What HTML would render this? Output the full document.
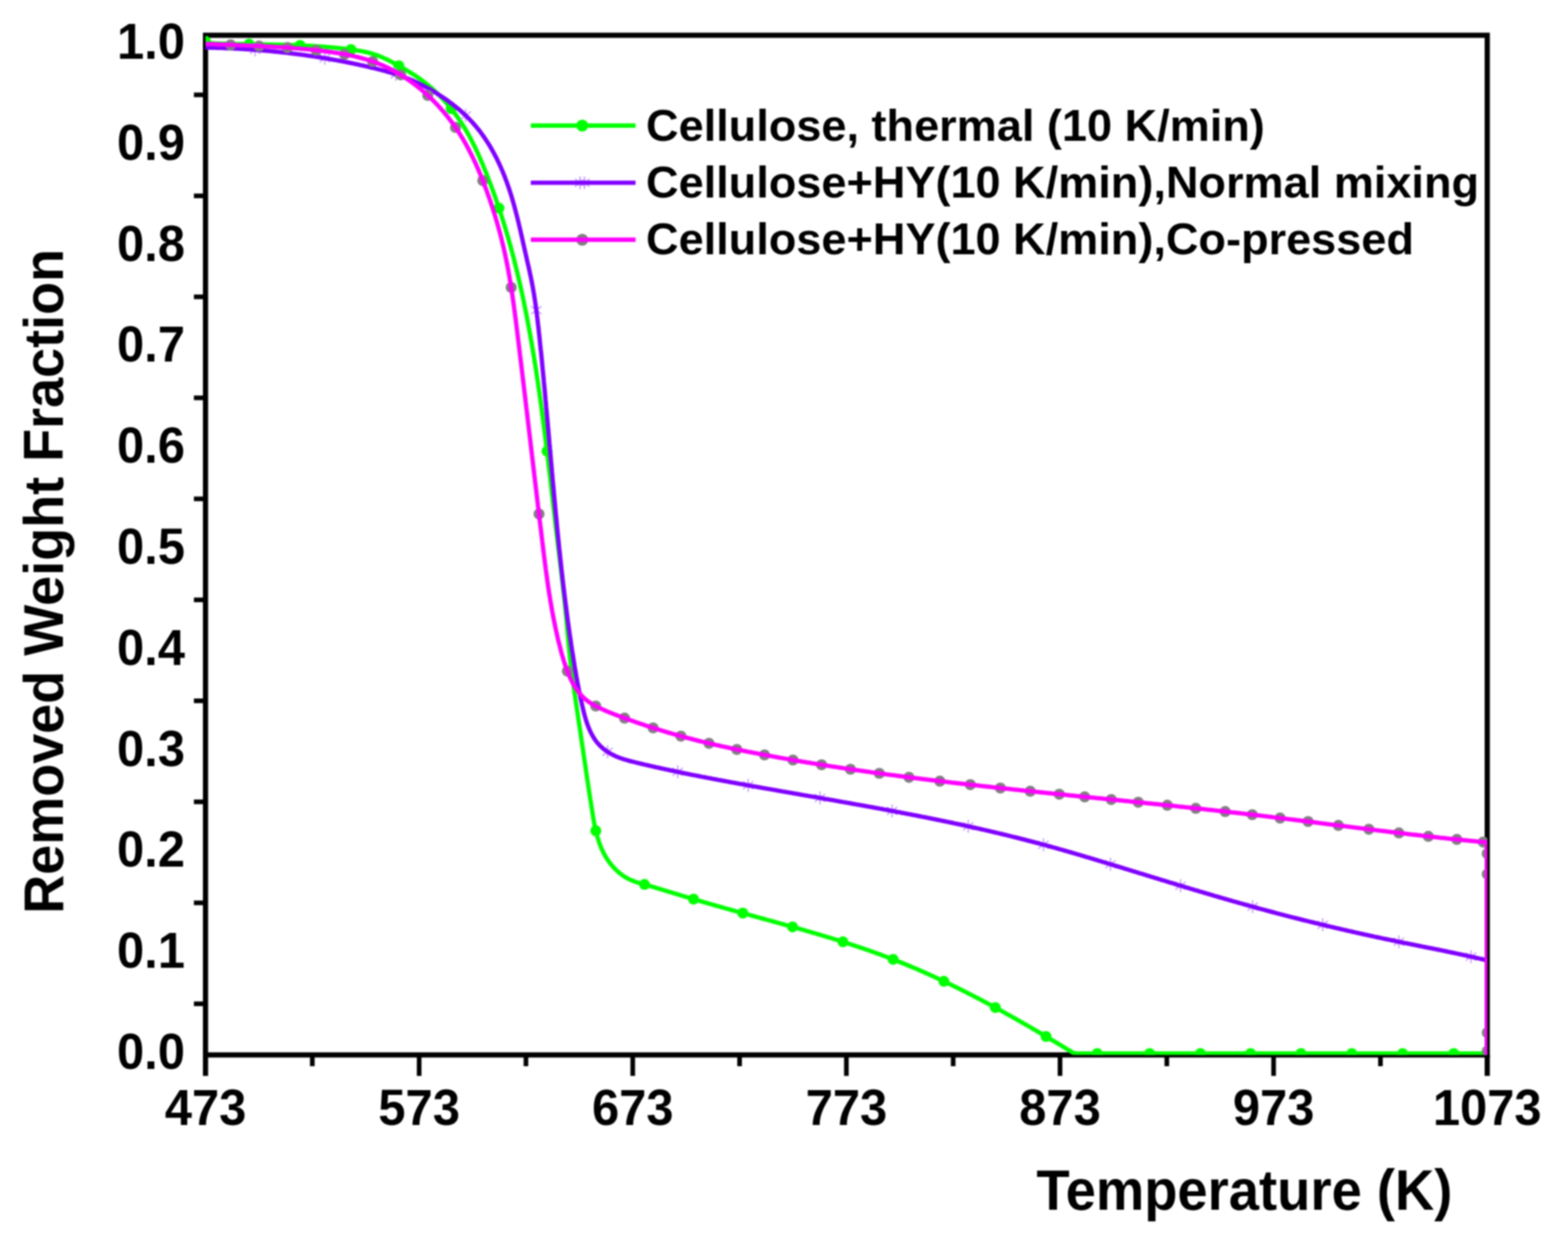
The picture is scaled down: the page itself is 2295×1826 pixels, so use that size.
<!DOCTYPE html>
<html lang="en"><head><meta charset="utf-8"><title>Removed Weight Fraction vs Temperature</title>
<style>html,body{margin:0;padding:0;background:#fff}body{width:2295px;height:1826px}svg{display:block}text{font-family:"Liberation Sans",sans-serif;font-weight:bold;fill:#000}</style></head><body>
<svg width="2295" height="1826" viewBox="0 0 2295 1826">
<rect width="2295" height="1826" fill="#fff"/>
<defs><clipPath id="plot"><rect x="300.8" y="51.6" width="1876.0" height="1491.9"/></clipPath><filter id="soft" filterUnits="userSpaceOnUse" x="0" y="0" width="2295" height="1826" color-interpolation-filters="sRGB"><feGaussianBlur stdDeviation="0.8"/></filter></defs>
<g filter="url(#soft)">
<g stroke="#000" stroke-width="7.6" fill="none">
<rect x="300.8" y="51.6" width="1876.0000000000002" height="1491.9"/>
<line x1="300.8" y1="1543.5" x2="300.8" y2="1574.2"/>
<line x1="2176.8" y1="1543.5" x2="2176.8" y2="1574.2"/>
</g>
<g stroke="#000" stroke-width="6.8" fill="none">
<line x1="613.5" y1="1543.5" x2="613.5" y2="1574.2"/>
<line x1="926.1" y1="1543.5" x2="926.1" y2="1574.2"/>
<line x1="1238.8" y1="1543.5" x2="1238.8" y2="1574.2"/>
<line x1="1551.5" y1="1543.5" x2="1551.5" y2="1574.2"/>
<line x1="1864.1" y1="1543.5" x2="1864.1" y2="1574.2"/>
<line x1="457.1" y1="1543.5" x2="457.1" y2="1560.0"/>
<line x1="769.8" y1="1543.5" x2="769.8" y2="1560.0"/>
<line x1="1082.5" y1="1543.5" x2="1082.5" y2="1560.0"/>
<line x1="1395.1" y1="1543.5" x2="1395.1" y2="1560.0"/>
<line x1="1707.8" y1="1543.5" x2="1707.8" y2="1560.0"/>
<line x1="2020.5" y1="1543.5" x2="2020.5" y2="1560.0"/>
<line x1="283.8" y1="138.8" x2="300.8" y2="138.8"/>
<line x1="283.8" y1="286.6" x2="300.8" y2="286.6"/>
<line x1="283.8" y1="434.3" x2="300.8" y2="434.3"/>
<line x1="283.8" y1="582.1" x2="300.8" y2="582.1"/>
<line x1="283.8" y1="729.9" x2="300.8" y2="729.9"/>
<line x1="283.8" y1="877.7" x2="300.8" y2="877.7"/>
<line x1="283.8" y1="1025.4" x2="300.8" y2="1025.4"/>
<line x1="283.8" y1="1173.2" x2="300.8" y2="1173.2"/>
<line x1="283.8" y1="1321.0" x2="300.8" y2="1321.0"/>
<line x1="283.8" y1="1468.7" x2="300.8" y2="1468.7"/>
</g>
<g clip-path="url(#plot)" fill="none" stroke-linejoin="round">
<path d="M300.8,63.0 L302.8,63.1 L304.8,63.2 L306.8,63.3 L308.7,63.3 L310.7,63.4 L312.7,63.5 L314.7,63.5 L316.6,63.6 L318.6,63.7 L320.6,63.7 L322.6,63.8 L324.6,63.8 L326.5,63.9 L328.5,63.9 L330.5,64.0 L332.5,64.0 L334.5,64.1 L336.5,64.1 L338.5,64.2 L340.5,64.2 L342.5,64.2 L344.5,64.3 L346.5,64.3 L348.5,64.4 L350.5,64.4 L352.5,64.4 L354.5,64.5 L356.5,64.5 L358.5,64.5 L360.5,64.6 L362.5,64.6 L364.5,64.6 L366.5,64.7 L368.5,64.7 L370.5,64.7 L372.5,64.8 L374.5,64.8 L376.5,64.8 L378.5,64.8 L380.6,64.9 L382.6,64.9 L384.6,64.9 L386.6,65.0 L388.6,65.0 L390.6,65.1 L392.6,65.1 L394.6,65.1 L396.6,65.2 L398.7,65.2 L400.7,65.3 L402.7,65.3 L404.7,65.3 L406.7,65.4 L408.7,65.4 L410.7,65.5 L412.8,65.5 L414.8,65.6 L416.8,65.6 L418.8,65.7 L420.8,65.8 L422.8,65.8 L424.8,65.9 L426.8,66.0 L428.8,66.0 L430.9,66.1 L432.9,66.2 L434.9,66.2 L436.9,66.3 L438.9,66.4 L440.9,66.5 L442.9,66.6 L444.9,66.7 L446.9,66.8 L448.9,66.9 L450.9,67.0 L452.9,67.1 L454.9,67.2 L456.9,67.3 L458.9,67.4 L460.9,67.5 L462.9,67.7 L464.9,67.8 L466.9,67.9 L468.9,68.1 L470.9,68.2 L472.9,68.3 L474.9,68.5 L476.8,68.7 L478.8,68.8 L480.8,69.0 L482.8,69.1 L484.8,69.3 L486.8,69.5 L488.7,69.7 L490.7,69.9 L492.7,70.1 L494.7,70.3 L496.6,70.5 L498.6,70.7 L500.6,70.9 L502.5,71.1 L504.5,71.4 L506.5,71.6 L508.4,71.8 L510.4,72.1 L512.3,72.3 L514.3,72.6 L516.2,72.9 L518.2,73.1 L520.1,73.4 L522.1,73.7 L524.0,74.0 L526.0,74.3 L527.9,74.7 L529.8,75.0 L531.8,75.4 L533.7,75.8 L535.6,76.2 L537.5,76.7 L539.4,77.1 L541.3,77.6 L543.2,78.1 L545.1,78.7 L547.0,79.3 L548.9,79.9 L550.8,80.5 L552.7,81.2 L554.6,81.9 L556.4,82.6 L558.3,83.4 L560.2,84.2 L562.0,85.1 L563.9,85.9 L565.7,86.8 L567.6,87.7 L569.4,88.6 L571.2,89.5 L573.0,90.5 L574.8,91.4 L576.6,92.4 L578.4,93.4 L580.2,94.4 L582.0,95.4 L583.8,96.3 L585.5,97.3 L587.3,98.3 L589.1,99.3 L590.8,100.3 L592.5,101.3 L594.3,102.4 L596.0,103.4 L597.7,104.4 L599.4,105.4 L601.1,106.5 L602.8,107.5 L604.4,108.6 L606.1,109.6 L607.8,110.7 L609.4,111.8 L611.0,112.9 L612.7,114.0 L614.3,115.2 L615.9,116.3 L617.5,117.5 L619.1,118.7 L620.6,119.9 L622.2,121.1 L623.8,122.3 L625.3,123.6 L626.8,124.8 L628.4,126.1 L629.9,127.4 L631.4,128.7 L632.9,130.0 L634.3,131.3 L635.8,132.7 L637.3,134.0 L638.7,135.4 L640.1,136.8 L641.6,138.2 L643.0,139.6 L644.4,141.0 L645.8,142.4 L647.2,143.9 L648.5,145.3 L649.9,146.8 L651.2,148.3 L652.5,149.7 L653.9,151.3 L655.2,152.8 L656.5,154.3 L657.7,155.8 L659.0,157.4 L660.3,158.9 L661.5,160.5 L662.8,162.1 L664.0,163.7 L665.2,165.2 L666.4,166.9 L667.6,168.5 L668.7,170.1 L669.9,171.7 L671.0,173.4 L672.2,175.0 L673.3,176.7 L674.4,178.3 L675.5,180.0 L676.6,181.7 L677.6,183.4 L678.7,185.1 L679.7,186.8 L680.8,188.5 L681.8,190.2 L682.8,192.0 L683.8,193.7 L684.8,195.4 L685.8,197.2 L686.7,198.9 L687.7,200.7 L688.6,202.5 L689.6,204.2 L690.5,206.0 L691.4,207.8 L692.3,209.6 L693.2,211.4 L694.1,213.2 L695.0,215.0 L695.9,216.8 L696.7,218.6 L697.6,220.4 L698.4,222.2 L699.3,224.1 L700.1,225.9 L700.9,227.7 L701.7,229.6 L702.5,231.4 L703.3,233.3 L704.1,235.1 L704.9,236.9 L705.7,238.8 L706.5,240.7 L707.3,242.5 L708.0,244.4 L708.8,246.2 L709.6,248.1 L710.3,249.9 L711.1,251.8 L711.8,253.7 L712.5,255.5 L713.3,257.4 L714.0,259.3 L714.7,261.1 L715.5,263.0 L716.2,264.9 L716.9,266.8 L717.6,268.6 L718.3,270.5 L719.0,272.4 L719.7,274.3 L720.4,276.1 L721.1,278.0 L721.8,279.9 L722.4,281.8 L723.1,283.7 L723.8,285.5 L724.5,287.4 L725.1,289.3 L725.8,291.2 L726.4,293.1 L727.1,295.0 L727.7,296.9 L728.4,298.8 L729.0,300.6 L729.7,302.5 L730.3,304.4 L730.9,306.3 L731.5,308.2 L732.2,310.1 L732.8,312.0 L733.4,313.9 L734.0,315.8 L734.6,317.7 L735.2,319.6 L735.8,321.5 L736.4,323.4 L737.0,325.3 L737.6,327.2 L738.2,329.1 L738.8,331.0 L739.3,332.9 L739.9,334.8 L740.5,336.7 L741.0,338.7 L741.6,340.6 L742.2,342.5 L742.7,344.4 L743.3,346.3 L743.8,348.2 L744.4,350.1 L744.9,352.0 L745.4,354.0 L746.0,355.9 L746.5,357.8 L747.0,359.7 L747.6,361.6 L748.1,363.6 L748.6,365.5 L749.1,367.4 L749.6,369.3 L750.1,371.2 L750.7,373.2 L751.2,375.1 L751.7,377.0 L752.2,378.9 L752.6,380.9 L753.1,382.8 L753.6,384.7 L754.1,386.7 L754.6,388.6 L755.1,390.5 L755.5,392.5 L756.0,394.4 L756.5,396.3 L757.0,398.3 L757.4,400.2 L757.9,402.1 L758.3,404.1 L758.8,406.0 L759.2,407.9 L759.7,409.9 L760.1,411.8 L760.6,413.8 L761.0,415.7 L761.5,417.6 L761.9,419.6 L762.3,421.5 L762.8,423.5 L763.2,425.4 L763.6,427.3 L764.0,429.3 L764.5,431.2 L764.9,433.2 L765.3,435.1 L765.7,437.1 L766.1,439.0 L766.5,441.0 L766.9,442.9 L767.3,444.9 L767.7,446.8 L768.1,448.8 L768.5,450.7 L768.9,452.7 L769.3,454.6 L769.7,456.6 L770.1,458.6 L770.5,460.5 L770.9,462.5 L771.2,464.4 L771.6,466.4 L772.0,468.3 L772.4,470.3 L772.7,472.2 L773.1,474.2 L773.5,476.2 L773.8,478.1 L774.2,480.1 L774.6,482.1 L774.9,484.0 L775.3,486.0 L775.6,487.9 L776.0,489.9 L776.3,491.9 L776.7,493.8 L777.0,495.8 L777.4,497.8 L777.7,499.7 L778.1,501.7 L778.4,503.7 L778.7,505.6 L779.1,507.6 L779.4,509.6 L779.7,511.5 L780.1,513.5 L780.4,515.5 L780.7,517.4 L781.0,519.4 L781.4,521.4 L781.7,523.4 L782.0,525.3 L782.3,527.3 L782.6,529.3 L782.9,531.2 L783.3,533.2 L783.6,535.2 L783.9,537.2 L784.2,539.1 L784.5,541.1 L784.8,543.1 L785.1,545.1 L785.4,547.0 L785.7,549.0 L786.0,551.0 L786.3,553.0 L786.6,555.0 L786.9,556.9 L787.2,558.9 L787.5,560.9 L787.8,562.9 L788.0,564.9 L788.3,566.8 L788.6,568.8 L788.9,570.8 L789.2,572.8 L789.5,574.8 L789.7,576.7 L790.0,578.7 L790.3,580.7 L790.6,582.7 L790.9,584.7 L791.1,586.7 L791.4,588.6 L791.7,590.6 L792.0,592.6 L792.2,594.6 L792.5,596.6 L792.8,598.6 L793.0,600.5 L793.3,602.5 L793.6,604.5 L793.8,606.5 L794.1,608.5 L794.3,610.5 L794.6,612.5 L794.9,614.4 L795.1,616.4 L795.4,618.4 L795.6,620.4 L795.9,622.4 L796.1,624.4 L796.4,626.4 L796.6,628.4 L796.9,630.3 L797.2,632.3 L797.4,634.3 L797.7,636.3 L797.9,638.3 L798.1,640.3 L798.4,642.3 L798.6,644.3 L798.9,646.3 L799.1,648.3 L799.4,650.2 L799.6,652.2 L799.9,654.2 L800.1,656.2 L800.4,658.2 L800.6,660.2 L800.8,662.2 L801.1,664.2 L801.3,666.2 L801.6,668.2 L801.8,670.2 L802.0,672.1 L802.3,674.1 L802.5,676.1 L802.7,678.1 L803.0,680.1 L803.2,682.1 L803.4,684.1 L803.7,686.1 L803.9,688.1 L804.2,690.1 L804.4,692.1 L804.6,694.1 L804.9,696.0 L805.1,698.0 L805.3,700.0 L805.6,702.0 L805.8,704.0 L806.0,706.0 L806.2,708.0 L806.5,710.0 L806.7,712.0 L806.9,714.0 L807.2,716.0 L807.4,718.0 L807.6,720.0 L807.9,722.0 L808.1,723.9 L808.3,725.9 L808.6,727.9 L808.8,729.9 L809.0,731.9 L809.2,733.9 L809.5,735.9 L809.7,737.9 L809.9,739.9 L810.2,741.9 L810.4,743.9 L810.6,745.9 L810.9,747.8 L811.1,749.8 L811.3,751.8 L811.6,753.8 L811.8,755.8 L812.0,757.8 L812.2,759.8 L812.5,761.8 L812.7,763.8 L812.9,765.8 L813.2,767.8 L813.4,769.8 L813.6,771.7 L813.9,773.7 L814.1,775.7 L814.3,777.7 L814.6,779.7 L814.8,781.7 L815.1,783.7 L815.3,785.7 L815.5,787.7 L815.8,789.6 L816.0,791.6 L816.2,793.6 L816.5,795.6 L816.7,797.6 L817.0,799.6 L817.2,801.6 L817.4,803.6 L817.7,805.6 L817.9,807.5 L818.2,809.5 L818.4,811.5 L818.6,813.5 L818.9,815.5 L819.1,817.5 L819.4,819.5 L819.6,821.4 L819.8,823.4 L820.1,825.4 L820.3,827.4 L820.5,829.4 L820.8,831.4 L821.0,833.4 L821.3,835.3 L821.5,837.3 L821.7,839.3 L822.0,841.3 L822.2,843.3 L822.4,845.3 L822.7,847.3 L822.9,849.2 L823.1,851.2 L823.4,853.2 L823.6,855.2 L823.8,857.2 L824.0,859.2 L824.3,861.1 L824.5,863.1 L824.7,865.1 L824.9,867.1 L825.2,869.1 L825.4,871.1 L825.6,873.0 L825.8,875.0 L826.0,877.0 L826.3,879.0 L826.5,881.0 L826.7,882.9 L826.9,884.9 L827.1,886.9 L827.3,888.9 L827.5,890.9 L827.7,892.9 L827.9,894.8 L828.1,896.8 L828.3,898.8 L828.5,900.8 L828.7,902.8 L828.9,904.7 L829.1,906.7 L829.2,908.7 L829.4,910.7 L829.6,912.7 L829.8,914.6 L830.0,916.6 L830.1,918.6 L830.3,920.6 L830.5,922.6 L830.7,924.5 L830.9,926.5 L831.0,928.5 L831.2,930.5 L831.4,932.5 L831.6,934.4 L831.7,936.4 L831.9,938.4 L832.1,940.4 L832.3,942.4 L832.5,944.3 L832.7,946.3 L832.9,948.3 L833.1,950.3 L833.3,952.2 L833.4,954.2 L833.7,956.2 L833.9,958.2 L834.1,960.2 L834.3,962.1 L834.5,964.1 L834.7,966.1 L834.9,968.1 L835.2,970.1 L835.4,972.0 L835.6,974.0 L835.9,976.0 L836.1,978.0 L836.4,979.9 L836.6,981.9 L836.9,983.9 L837.1,985.9 L837.4,987.9 L837.6,989.8 L837.9,991.8 L838.2,993.8 L838.4,995.8 L838.7,997.7 L839.0,999.7 L839.2,1001.7 L839.5,1003.7 L839.8,1005.7 L840.1,1007.6 L840.3,1009.6 L840.6,1011.6 L840.9,1013.6 L841.2,1015.5 L841.5,1017.5 L841.8,1019.5 L842.0,1021.5 L842.3,1023.4 L842.6,1025.4 L842.9,1027.4 L843.2,1029.4 L843.5,1031.4 L843.8,1033.3 L844.1,1035.3 L844.4,1037.3 L844.7,1039.3 L845.0,1041.2 L845.3,1043.2 L845.6,1045.2 L845.9,1047.2 L846.1,1049.1 L846.4,1051.1 L846.7,1053.1 L847.0,1055.1 L847.3,1057.1 L847.6,1059.0 L847.9,1061.0 L848.2,1063.0 L848.5,1065.0 L848.8,1066.9 L849.1,1068.9 L849.4,1070.9 L849.7,1072.9 L850.0,1074.9 L850.2,1076.8 L850.5,1078.8 L850.8,1080.8 L851.1,1082.8 L851.4,1084.7 L851.7,1086.7 L852.0,1088.7 L852.3,1090.7 L852.6,1092.7 L852.9,1094.6 L853.2,1096.6 L853.5,1098.6 L853.7,1100.6 L854.0,1102.5 L854.3,1104.5 L854.6,1106.5 L854.9,1108.5 L855.2,1110.5 L855.5,1112.4 L855.8,1114.4 L856.1,1116.4 L856.4,1118.4 L856.7,1120.4 L857.0,1122.3 L857.3,1124.3 L857.5,1126.3 L857.8,1128.3 L858.1,1130.3 L858.4,1132.3 L858.7,1134.2 L859.0,1136.2 L859.3,1138.2 L859.6,1140.2 L859.9,1142.2 L860.2,1144.2 L860.5,1146.1 L860.8,1148.1 L861.1,1150.1 L861.4,1152.1 L861.7,1154.1 L862.0,1156.1 L862.3,1158.0 L862.6,1160.0 L862.9,1162.0 L863.2,1164.0 L863.5,1166.0 L863.8,1168.0 L864.1,1170.0 L864.5,1172.0 L864.8,1173.9 L865.1,1175.9 L865.4,1177.9 L865.7,1179.9 L866.0,1181.9 L866.3,1183.9 L866.6,1185.9 L866.9,1187.9 L867.3,1189.9 L867.6,1191.9 L867.9,1193.8 L868.2,1195.8 L868.6,1197.8 L868.9,1199.8 L869.3,1201.8 L869.6,1203.8 L870.0,1205.7 L870.4,1207.7 L870.8,1209.7 L871.2,1211.6 L871.6,1213.6 L872.1,1215.5 L872.6,1217.4 L873.0,1219.4 L873.5,1221.3 L874.0,1223.2 L874.6,1225.1 L875.1,1227.0 L875.7,1228.9 L876.3,1230.8 L877.0,1232.7 L877.6,1234.5 L878.3,1236.4 L879.0,1238.2 L879.8,1240.0 L880.5,1241.8 L881.3,1243.6 L882.2,1245.4 L883.0,1247.2 L883.9,1248.9 L884.9,1250.7 L885.9,1252.4 L886.9,1254.1 L887.9,1255.8 L889.0,1257.5 L890.1,1259.1 L891.3,1260.8 L892.5,1262.4 L893.7,1264.0 L894.9,1265.5 L896.2,1267.0 L897.5,1268.5 L898.9,1270.0 L900.3,1271.4 L901.7,1272.8 L903.2,1274.2 L904.6,1275.5 L906.2,1276.8 L907.7,1278.1 L909.3,1279.3 L910.9,1280.5 L912.5,1281.6 L914.2,1282.7 L915.9,1283.7 L917.6,1284.7 L919.3,1285.6 L921.1,1286.5 L922.8,1287.3 L924.6,1288.1 L926.4,1288.8 L928.2,1289.5 L930.1,1290.2 L931.9,1290.8 L933.8,1291.4 L935.7,1291.9 L937.5,1292.5 L939.4,1293.0 L941.4,1293.5 L943.3,1294.1 L945.2,1294.6 L947.1,1295.2 L949.1,1295.7 L951.0,1296.3 L953.0,1296.9 L954.9,1297.4 L956.9,1298.0 L958.9,1298.6 L960.8,1299.2 L962.8,1299.8 L964.8,1300.4 L966.7,1301.0 L968.7,1301.6 L970.7,1302.2 L972.6,1302.8 L974.6,1303.4 L976.5,1304.0 L978.5,1304.6 L980.4,1305.1 L982.4,1305.7 L984.3,1306.3 L986.3,1306.9 L988.2,1307.5 L990.1,1308.1 L992.1,1308.6 L994.0,1309.2 L995.9,1309.8 L997.8,1310.4 L999.8,1311.0 L1001.7,1311.5 L1003.6,1312.1 L1005.5,1312.7 L1007.4,1313.2 L1009.3,1313.8 L1011.3,1314.4 L1013.2,1314.9 L1015.1,1315.5 L1017.0,1316.1 L1018.9,1316.6 L1020.8,1317.2 L1022.7,1317.7 L1024.6,1318.3 L1026.5,1318.9 L1028.4,1319.4 L1030.3,1320.0 L1032.2,1320.5 L1034.1,1321.1 L1036.0,1321.6 L1037.9,1322.2 L1039.8,1322.7 L1041.8,1323.3 L1043.7,1323.8 L1045.6,1324.4 L1047.5,1324.9 L1049.4,1325.5 L1051.3,1326.0 L1053.2,1326.5 L1055.1,1327.1 L1057.0,1327.6 L1058.9,1328.2 L1060.8,1328.7 L1062.7,1329.2 L1064.7,1329.8 L1066.6,1330.3 L1068.5,1330.9 L1070.4,1331.4 L1072.3,1331.9 L1074.2,1332.5 L1076.2,1333.0 L1078.1,1333.5 L1080.0,1334.1 L1081.9,1334.6 L1083.8,1335.1 L1085.8,1335.6 L1087.7,1336.2 L1089.6,1336.7 L1091.5,1337.2 L1093.4,1337.8 L1095.4,1338.3 L1097.3,1338.8 L1099.2,1339.4 L1101.1,1339.9 L1103.1,1340.4 L1105.0,1340.9 L1106.9,1341.5 L1108.8,1342.0 L1110.8,1342.5 L1112.7,1343.1 L1114.6,1343.6 L1116.5,1344.1 L1118.5,1344.6 L1120.4,1345.2 L1122.3,1345.7 L1124.3,1346.2 L1126.2,1346.8 L1128.1,1347.3 L1130.0,1347.8 L1132.0,1348.4 L1133.9,1348.9 L1135.8,1349.4 L1137.8,1350.0 L1139.7,1350.5 L1141.6,1351.0 L1143.5,1351.6 L1145.5,1352.1 L1147.4,1352.6 L1149.3,1353.2 L1151.3,1353.7 L1153.2,1354.2 L1155.1,1354.8 L1157.1,1355.3 L1159.0,1355.9 L1160.9,1356.4 L1162.8,1357.0 L1164.8,1357.5 L1166.7,1358.0 L1168.6,1358.6 L1170.5,1359.1 L1172.5,1359.7 L1174.4,1360.2 L1176.3,1360.8 L1178.3,1361.3 L1180.2,1361.9 L1182.1,1362.5 L1184.0,1363.0 L1186.0,1363.6 L1187.9,1364.1 L1189.8,1364.7 L1191.7,1365.2 L1193.7,1365.8 L1195.6,1366.4 L1197.5,1366.9 L1199.4,1367.5 L1201.3,1368.1 L1203.3,1368.7 L1205.2,1369.2 L1207.1,1369.8 L1209.0,1370.4 L1210.9,1371.0 L1212.9,1371.5 L1214.8,1372.1 L1216.7,1372.7 L1218.6,1373.3 L1220.5,1373.9 L1222.4,1374.5 L1224.3,1375.1 L1226.3,1375.7 L1228.2,1376.3 L1230.1,1376.9 L1232.0,1377.5 L1233.9,1378.1 L1235.8,1378.7 L1237.7,1379.3 L1239.6,1379.9 L1241.5,1380.5 L1243.4,1381.1 L1245.3,1381.8 L1247.2,1382.4 L1249.1,1383.0 L1251.0,1383.6 L1252.9,1384.3 L1254.8,1384.9 L1256.7,1385.5 L1258.6,1386.2 L1260.5,1386.8 L1262.4,1387.5 L1264.3,1388.1 L1266.2,1388.8 L1268.1,1389.4 L1270.0,1390.1 L1271.9,1390.7 L1273.8,1391.4 L1275.7,1392.0 L1277.5,1392.7 L1279.4,1393.4 L1281.3,1394.1 L1283.2,1394.7 L1285.1,1395.4 L1286.9,1396.1 L1288.8,1396.8 L1290.7,1397.5 L1292.6,1398.2 L1294.4,1398.9 L1296.3,1399.6 L1298.2,1400.3 L1300.1,1401.0 L1301.9,1401.7 L1303.8,1402.4 L1305.7,1403.1 L1307.5,1403.8 L1309.4,1404.6 L1311.2,1405.3 L1313.1,1406.0 L1315.0,1406.8 L1316.8,1407.5 L1318.7,1408.2 L1320.5,1409.0 L1322.4,1409.7 L1324.2,1410.5 L1326.1,1411.2 L1327.9,1412.0 L1329.7,1412.8 L1331.6,1413.5 L1333.4,1414.3 L1335.3,1415.1 L1337.1,1415.9 L1338.9,1416.6 L1340.8,1417.4 L1342.6,1418.2 L1344.4,1419.0 L1346.3,1419.8 L1348.1,1420.6 L1349.9,1421.4 L1351.8,1422.2 L1353.6,1423.0 L1355.4,1423.8 L1357.2,1424.6 L1359.1,1425.4 L1360.9,1426.3 L1362.7,1427.1 L1364.5,1427.9 L1366.3,1428.7 L1368.1,1429.6 L1370.0,1430.4 L1371.8,1431.2 L1373.6,1432.1 L1375.4,1432.9 L1377.2,1433.8 L1379.0,1434.6 L1380.8,1435.5 L1382.6,1436.3 L1384.4,1437.2 L1386.2,1438.0 L1388.0,1438.9 L1389.8,1439.8 L1391.6,1440.6 L1393.4,1441.5 L1395.2,1442.4 L1397.0,1443.3 L1398.8,1444.1 L1400.6,1445.0 L1402.4,1445.9 L1404.2,1446.8 L1406.0,1447.7 L1407.7,1448.6 L1409.5,1449.5 L1411.3,1450.4 L1413.1,1451.3 L1414.9,1452.2 L1416.7,1453.1 L1418.4,1454.0 L1420.2,1454.9 L1422.0,1455.8 L1423.8,1456.7 L1425.5,1457.6 L1427.3,1458.6 L1429.1,1459.5 L1430.9,1460.4 L1432.6,1461.3 L1434.4,1462.3 L1436.2,1463.2 L1437.9,1464.1 L1439.7,1465.1 L1441.5,1466.0 L1443.2,1466.9 L1445.0,1467.9 L1446.8,1468.8 L1448.5,1469.8 L1450.3,1470.7 L1452.1,1471.7 L1453.8,1472.6 L1455.6,1473.6 L1457.3,1474.5 L1459.1,1475.5 L1460.8,1476.4 L1462.6,1477.4 L1464.3,1478.3 L1466.1,1479.3 L1467.8,1480.3 L1469.6,1481.2 L1471.3,1482.2 L1473.1,1483.2 L1474.8,1484.2 L1476.6,1485.1 L1478.3,1486.1 L1480.1,1487.1 L1481.8,1488.1 L1483.6,1489.0 L1485.3,1490.0 L1487.0,1491.0 L1488.8,1492.0 L1490.5,1493.0 L1492.3,1494.0 L1494.0,1495.0 L1495.7,1496.0 L1497.5,1497.0 L1499.2,1497.9 L1500.9,1498.9 L1502.7,1499.9 L1504.4,1500.9 L1506.1,1501.9 L1507.9,1502.9 L1509.6,1503.9 L1511.3,1505.0 L1513.1,1506.0 L1514.8,1507.0 L1516.5,1508.0 L1518.2,1509.0 L1520.0,1510.0 L1521.7,1511.0 L1523.4,1512.0 L1525.1,1513.0 L1526.9,1514.0 L1528.6,1515.1 L1530.3,1516.1 L1532.0,1517.1 L1533.7,1518.1 L1535.5,1519.1 L1537.2,1520.2 L1538.9,1521.2 L1540.6,1522.2 L1542.3,1523.2 L1544.0,1524.3 L1545.8,1525.3 L1547.5,1526.3 L1549.2,1527.3 L1550.9,1528.4 L1552.6,1529.4 L1554.3,1530.4 L1556.0,1531.5 L1557.7,1532.5 L1559.5,1533.5 L1561.2,1534.6 L1562.9,1535.6 L1564.6,1536.6 L1566.3,1537.7 L1568.0,1538.7 L1569.7,1539.7 L1571.4,1540.8 L1573.3,1541.5 L2176.8,1541.5" stroke="#00ff00" stroke-width="6.3"/>
<g fill="#00ff00">
<circle cx="300.8" cy="60.5" r="8.0"/>
<circle cx="364.6" cy="64.6" r="8.0"/>
<circle cx="439.2" cy="66.4" r="8.0"/>
<circle cx="513.7" cy="72.5" r="8.0"/>
<circle cx="583.8" cy="96.3" r="8.0"/>
<circle cx="660.3" cy="158.9" r="8.0"/>
<circle cx="730.3" cy="304.4" r="8.0"/>
<circle cx="800.6" cy="660.2" r="8.0"/>
<circle cx="872.1" cy="1215.5" r="8.0"/>
<circle cx="943.3" cy="1294.1" r="8.0"/>
<circle cx="1015.1" cy="1315.5" r="8.0"/>
<circle cx="1087.2" cy="1336.0" r="8.0"/>
<circle cx="1160.0" cy="1356.2" r="8.0"/>
<circle cx="1233.8" cy="1378.1" r="8.0"/>
<circle cx="1307.2" cy="1403.7" r="8.0"/>
<circle cx="1381.5" cy="1435.8" r="8.0"/>
<circle cx="1456.8" cy="1474.2" r="8.0"/>
<circle cx="1531.1" cy="1516.6" r="8.0"/>
<circle cx="1606.0" cy="1541.5" r="8.0"/>
<circle cx="1682.7" cy="1541.5" r="8.0"/>
<circle cx="1757.0" cy="1541.5" r="8.0"/>
<circle cx="1830.4" cy="1541.5" r="8.0"/>
<circle cx="1904.2" cy="1541.5" r="8.0"/>
<circle cx="1978.5" cy="1541.5" r="8.0"/>
<circle cx="2052.9" cy="1541.5" r="8.0"/>
<circle cx="2127.8" cy="1541.5" r="8.0"/>
</g>
<g stroke="#c9a0ff" stroke-width="2.0">
<path d="M373.5,63.4V82.4M365.9,67.2L381.1,78.6M381.1,67.2L365.9,78.6"/>
<path d="M475.5,75.7V94.7M467.9,79.5L483.1,90.9M483.1,79.5L467.9,90.9"/>
<path d="M579.4,99.2V118.2M571.8,103.0L587.0,114.4M587.0,103.0L571.8,114.4"/>
<path d="M681.6,159.5V178.5M674.0,163.3L689.2,174.7M689.2,163.3L674.0,174.7"/>
<path d="M785.0,444.3V463.3M777.4,448.1L792.6,459.5M792.6,448.1L777.4,459.5"/>
<path d="M889.2,1090.4V1109.4M881.6,1094.2L896.8,1105.6M896.8,1094.2L881.6,1105.6"/>
<path d="M991.9,1119.8V1138.8M984.3,1123.6L999.5,1135.0M999.5,1123.6L984.3,1135.0"/>
<path d="M1095.0,1139.5V1158.5M1087.4,1143.3L1102.6,1154.7M1102.6,1143.3L1087.4,1154.7"/>
<path d="M1200.2,1158.0V1177.0M1192.6,1161.8L1207.8,1173.2M1207.8,1161.8L1192.6,1173.2"/>
<path d="M1305.7,1177.0V1196.0M1298.1,1180.8L1313.3,1192.2M1313.3,1180.8L1298.1,1192.2"/>
<path d="M1417.2,1199.5V1218.5M1409.6,1203.3L1424.8,1214.7M1424.8,1203.3L1409.6,1214.7"/>
<path d="M1527.3,1226.4V1245.4M1519.7,1230.2L1534.9,1241.6M1534.9,1230.2L1519.7,1241.6"/>
<path d="M1625.4,1255.0V1274.0M1617.8,1258.8L1633.0,1270.2M1633.0,1258.8L1617.8,1270.2"/>
<path d="M1727.9,1286.4V1305.4M1720.3,1290.2L1735.5,1301.6M1735.5,1290.2L1720.3,1301.6"/>
<path d="M1833.4,1317.1V1336.1M1825.8,1320.9L1841.0,1332.3M1841.0,1320.9L1825.8,1332.3"/>
<path d="M1936.0,1343.6V1362.6M1928.4,1347.4L1943.6,1358.8M1943.6,1347.4L1928.4,1358.8"/>
<path d="M2047.5,1368.5V1387.5M2039.9,1372.3L2055.1,1383.7M2055.1,1372.3L2039.9,1383.7"/>
<path d="M2153.1,1390.2V1409.2M2145.5,1394.0L2160.7,1405.4M2160.7,1394.0L2145.5,1405.4"/>
</g>
<path d="M300.8,69.5 L302.8,69.6 L304.8,69.7 L306.8,69.7 L308.8,69.8 L310.8,69.8 L312.8,69.9 L314.8,69.9 L316.8,70.0 L318.8,70.0 L320.8,70.1 L322.8,70.2 L324.8,70.2 L326.8,70.3 L328.8,70.4 L330.8,70.5 L332.8,70.5 L334.8,70.6 L336.8,70.7 L338.8,70.8 L340.8,70.9 L342.8,71.0 L344.8,71.1 L346.7,71.2 L348.7,71.3 L350.7,71.4 L352.7,71.5 L354.7,71.7 L356.7,71.8 L358.7,71.9 L360.7,72.0 L362.7,72.2 L364.7,72.3 L366.7,72.4 L368.7,72.6 L370.7,72.7 L372.7,72.9 L374.7,73.0 L376.7,73.2 L378.7,73.3 L380.7,73.5 L382.7,73.7 L384.6,73.8 L386.6,74.0 L388.6,74.2 L390.6,74.3 L392.6,74.5 L394.6,74.7 L396.6,74.9 L398.6,75.1 L400.6,75.3 L402.6,75.5 L404.6,75.7 L406.5,75.9 L408.5,76.1 L410.5,76.3 L412.5,76.5 L414.5,76.7 L416.5,77.0 L418.5,77.2 L420.5,77.4 L422.4,77.6 L424.4,77.9 L426.4,78.1 L428.4,78.4 L430.4,78.6 L432.4,78.9 L434.4,79.1 L436.3,79.4 L438.3,79.6 L440.3,79.9 L442.3,80.2 L444.3,80.4 L446.2,80.7 L448.2,81.0 L450.2,81.3 L452.2,81.5 L454.2,81.8 L456.1,82.1 L458.1,82.4 L460.1,82.7 L462.1,83.0 L464.1,83.3 L466.0,83.6 L468.0,83.9 L470.0,84.3 L472.0,84.6 L473.9,84.9 L475.9,85.2 L477.9,85.6 L479.8,85.9 L481.8,86.2 L483.8,86.6 L485.7,86.9 L487.7,87.3 L489.7,87.6 L491.7,88.0 L493.6,88.3 L495.6,88.7 L497.6,89.1 L499.5,89.5 L501.5,89.8 L503.4,90.2 L505.4,90.6 L507.4,91.0 L509.3,91.4 L511.3,91.8 L513.2,92.2 L515.2,92.6 L517.2,93.0 L519.1,93.4 L521.1,93.8 L523.0,94.2 L525.0,94.6 L526.9,95.1 L528.9,95.5 L530.9,95.9 L532.8,96.3 L534.8,96.8 L536.7,97.2 L538.7,97.7 L540.6,98.1 L542.6,98.6 L544.5,99.1 L546.4,99.5 L548.4,100.0 L550.3,100.5 L552.3,101.0 L554.2,101.5 L556.1,102.0 L558.1,102.5 L560.0,103.0 L561.9,103.5 L563.8,104.0 L565.8,104.6 L567.7,105.1 L569.6,105.7 L571.5,106.3 L573.4,106.8 L575.3,107.4 L577.2,108.0 L579.1,108.7 L581.0,109.3 L582.9,109.9 L584.8,110.6 L586.7,111.2 L588.6,111.9 L590.4,112.6 L592.3,113.3 L594.2,114.0 L596.0,114.7 L597.9,115.4 L599.7,116.2 L601.6,117.0 L603.4,117.7 L605.3,118.5 L607.1,119.4 L608.9,120.2 L610.7,121.0 L612.5,121.9 L614.4,122.8 L616.2,123.7 L617.9,124.6 L619.7,125.5 L621.5,126.4 L623.3,127.4 L625.1,128.3 L626.8,129.3 L628.6,130.3 L630.3,131.3 L632.1,132.3 L633.8,133.3 L635.5,134.3 L637.2,135.4 L638.9,136.4 L640.6,137.5 L642.3,138.6 L644.0,139.7 L645.7,140.8 L647.4,141.9 L649.0,143.0 L650.7,144.1 L652.3,145.2 L654.0,146.4 L655.6,147.5 L657.2,148.7 L658.8,149.9 L660.4,151.1 L662.0,152.3 L663.5,153.5 L665.1,154.7 L666.7,156.0 L668.2,157.2 L669.7,158.5 L671.3,159.7 L672.8,161.0 L674.3,162.3 L675.8,163.6 L677.2,165.0 L678.7,166.3 L680.1,167.6 L681.6,169.0 L683.0,170.4 L684.4,171.8 L685.8,173.2 L687.2,174.6 L688.6,176.0 L689.9,177.5 L691.3,178.9 L692.6,180.4 L693.9,181.9 L695.2,183.4 L696.5,184.9 L697.8,186.5 L699.1,188.0 L700.3,189.6 L701.6,191.1 L702.8,192.7 L704.0,194.3 L705.2,195.9 L706.3,197.6 L707.5,199.2 L708.7,200.9 L709.8,202.5 L710.9,204.2 L712.0,205.9 L713.1,207.6 L714.2,209.3 L715.3,211.0 L716.3,212.7 L717.4,214.5 L718.4,216.2 L719.4,217.9 L720.4,219.7 L721.4,221.5 L722.4,223.3 L723.3,225.0 L724.3,226.8 L725.2,228.6 L726.2,230.4 L727.1,232.2 L728.0,234.1 L728.8,235.9 L729.7,237.7 L730.6,239.5 L731.4,241.4 L732.3,243.2 L733.1,245.0 L733.9,246.9 L734.7,248.7 L735.5,250.6 L736.3,252.5 L737.0,254.3 L737.8,256.2 L738.5,258.0 L739.2,259.9 L739.9,261.8 L740.6,263.6 L741.3,265.5 L742.0,267.4 L742.7,269.3 L743.3,271.1 L744.0,273.0 L744.6,274.9 L745.3,276.8 L745.9,278.7 L746.5,280.5 L747.1,282.4 L747.7,284.3 L748.3,286.2 L748.9,288.1 L749.4,290.0 L750.0,291.9 L750.5,293.8 L751.1,295.7 L751.6,297.6 L752.2,299.5 L752.7,301.4 L753.2,303.3 L753.7,305.2 L754.2,307.1 L754.7,309.0 L755.2,311.0 L755.7,312.9 L756.2,314.8 L756.7,316.7 L757.2,318.6 L757.7,320.5 L758.1,322.5 L758.6,324.4 L759.1,326.3 L759.5,328.2 L760.0,330.2 L760.4,332.1 L760.9,334.0 L761.3,336.0 L761.8,337.9 L762.2,339.8 L762.6,341.8 L763.1,343.7 L763.5,345.6 L764.0,347.6 L764.4,349.5 L764.8,351.5 L765.3,353.4 L765.7,355.4 L766.1,357.3 L766.6,359.2 L767.0,361.2 L767.5,363.1 L767.9,365.1 L768.3,367.1 L768.8,369.0 L769.2,371.0 L769.7,372.9 L770.1,374.9 L770.6,376.8 L771.0,378.8 L771.4,380.7 L771.9,382.7 L772.3,384.7 L772.8,386.6 L773.2,388.6 L773.7,390.6 L774.1,392.5 L774.5,394.5 L775.0,396.5 L775.4,398.4 L775.8,400.4 L776.2,402.4 L776.7,404.3 L777.1,406.3 L777.5,408.3 L777.9,410.2 L778.3,412.2 L778.6,414.2 L779.0,416.2 L779.4,418.1 L779.8,420.1 L780.1,422.1 L780.5,424.1 L780.8,426.0 L781.1,428.0 L781.5,430.0 L781.8,432.0 L782.1,434.0 L782.4,435.9 L782.7,437.9 L783.0,439.9 L783.3,441.9 L783.6,443.9 L783.9,445.8 L784.2,447.8 L784.4,449.8 L784.7,451.8 L785.0,453.8 L785.2,455.8 L785.5,457.8 L785.7,459.7 L786.0,461.7 L786.2,463.7 L786.5,465.7 L786.7,467.7 L786.9,469.7 L787.2,471.7 L787.4,473.6 L787.6,475.6 L787.9,477.6 L788.1,479.6 L788.3,481.6 L788.5,483.6 L788.7,485.6 L788.9,487.6 L789.2,489.5 L789.4,491.5 L789.6,493.5 L789.8,495.5 L790.0,497.5 L790.2,499.5 L790.4,501.5 L790.6,503.5 L790.8,505.5 L791.0,507.4 L791.2,509.4 L791.4,511.4 L791.7,513.4 L791.9,515.4 L792.1,517.4 L792.3,519.4 L792.5,521.4 L792.7,523.4 L792.9,525.3 L793.1,527.3 L793.3,529.3 L793.4,531.3 L793.6,533.3 L793.8,535.3 L794.0,537.3 L794.2,539.3 L794.4,541.3 L794.6,543.3 L794.8,545.2 L795.0,547.2 L795.2,549.2 L795.4,551.2 L795.6,553.2 L795.8,555.2 L795.9,557.2 L796.1,559.2 L796.3,561.2 L796.5,563.2 L796.7,565.1 L796.9,567.1 L797.1,569.1 L797.3,571.1 L797.4,573.1 L797.6,575.1 L797.8,577.1 L798.0,579.1 L798.2,581.1 L798.4,583.1 L798.5,585.0 L798.7,587.0 L798.9,589.0 L799.1,591.0 L799.3,593.0 L799.4,595.0 L799.6,597.0 L799.8,599.0 L800.0,601.0 L800.2,603.0 L800.3,604.9 L800.5,606.9 L800.7,608.9 L800.9,610.9 L801.1,612.9 L801.2,614.9 L801.4,616.9 L801.6,618.9 L801.8,620.9 L801.9,622.9 L802.1,624.8 L802.3,626.8 L802.5,628.8 L802.7,630.8 L802.8,632.8 L803.0,634.8 L803.2,636.8 L803.4,638.8 L803.5,640.8 L803.7,642.8 L803.9,644.8 L804.1,646.7 L804.2,648.7 L804.4,650.7 L804.6,652.7 L804.8,654.7 L804.9,656.7 L805.1,658.7 L805.3,660.7 L805.5,662.7 L805.6,664.7 L805.8,666.6 L806.0,668.6 L806.2,670.6 L806.3,672.6 L806.5,674.6 L806.7,676.6 L806.9,678.6 L807.1,680.6 L807.2,682.6 L807.4,684.6 L807.6,686.5 L807.8,688.5 L807.9,690.5 L808.1,692.5 L808.3,694.5 L808.5,696.5 L808.7,698.5 L808.8,700.5 L809.0,702.5 L809.2,704.5 L809.4,706.5 L809.5,708.4 L809.7,710.4 L809.9,712.4 L810.1,714.4 L810.3,716.4 L810.5,718.4 L810.6,720.4 L810.8,722.4 L811.0,724.4 L811.2,726.3 L811.4,728.3 L811.5,730.3 L811.7,732.3 L811.9,734.3 L812.1,736.3 L812.3,738.3 L812.5,740.3 L812.7,742.3 L812.8,744.3 L813.0,746.2 L813.2,748.2 L813.4,750.2 L813.6,752.2 L813.8,754.2 L814.0,756.2 L814.2,758.2 L814.4,760.2 L814.6,762.2 L814.8,764.1 L814.9,766.1 L815.1,768.1 L815.3,770.1 L815.5,772.1 L815.7,774.1 L815.9,776.1 L816.1,778.1 L816.3,780.1 L816.5,782.0 L816.7,784.0 L816.9,786.0 L817.1,788.0 L817.3,790.0 L817.5,792.0 L817.7,794.0 L817.9,796.0 L818.1,798.0 L818.3,799.9 L818.5,801.9 L818.7,803.9 L819.0,805.9 L819.2,807.9 L819.4,809.9 L819.6,811.9 L819.8,813.9 L820.0,815.8 L820.2,817.8 L820.4,819.8 L820.7,821.8 L820.9,823.8 L821.1,825.8 L821.3,827.8 L821.5,829.8 L821.7,831.7 L822.0,833.7 L822.2,835.7 L822.4,837.7 L822.6,839.7 L822.9,841.7 L823.1,843.7 L823.3,845.6 L823.5,847.6 L823.8,849.6 L824.0,851.6 L824.2,853.6 L824.5,855.6 L824.7,857.6 L824.9,859.5 L825.2,861.5 L825.4,863.5 L825.6,865.5 L825.9,867.5 L826.1,869.5 L826.4,871.5 L826.6,873.4 L826.9,875.4 L827.1,877.4 L827.4,879.4 L827.6,881.4 L827.9,883.4 L828.1,885.3 L828.4,887.3 L828.6,889.3 L828.9,891.3 L829.1,893.3 L829.4,895.2 L829.6,897.2 L829.9,899.2 L830.2,901.2 L830.4,903.2 L830.7,905.2 L831.0,907.1 L831.2,909.1 L831.5,911.1 L831.8,913.1 L832.0,915.1 L832.3,917.0 L832.6,919.0 L832.9,921.0 L833.2,923.0 L833.4,925.0 L833.7,926.9 L834.0,928.9 L834.3,930.9 L834.6,932.9 L834.9,934.8 L835.2,936.8 L835.4,938.8 L835.7,940.8 L836.0,942.8 L836.3,944.7 L836.6,946.7 L836.9,948.7 L837.2,950.7 L837.5,952.6 L837.8,954.6 L838.2,956.6 L838.5,958.6 L838.8,960.5 L839.1,962.5 L839.4,964.5 L839.7,966.5 L840.0,968.4 L840.4,970.4 L840.7,972.4 L841.0,974.4 L841.3,976.3 L841.7,978.3 L842.0,980.3 L842.3,982.2 L842.7,984.2 L843.0,986.2 L843.4,988.2 L843.7,990.1 L844.1,992.1 L844.4,994.1 L844.8,996.0 L845.1,998.0 L845.5,1000.0 L845.9,1001.9 L846.2,1003.9 L846.6,1005.9 L847.0,1007.8 L847.4,1009.8 L847.8,1011.8 L848.2,1013.7 L848.6,1015.7 L849.0,1017.7 L849.4,1019.6 L849.8,1021.6 L850.2,1023.6 L850.7,1025.5 L851.1,1027.5 L851.5,1029.5 L852.0,1031.4 L852.4,1033.4 L852.9,1035.4 L853.4,1037.3 L853.8,1039.3 L854.3,1041.2 L854.8,1043.2 L855.3,1045.1 L855.8,1047.1 L856.4,1049.0 L856.9,1050.9 L857.5,1052.9 L858.1,1054.8 L858.7,1056.7 L859.3,1058.6 L860.0,1060.5 L860.7,1062.3 L861.4,1064.2 L862.2,1066.0 L862.9,1067.8 L863.7,1069.6 L864.6,1071.4 L865.5,1073.2 L866.4,1074.9 L867.4,1076.7 L868.4,1078.4 L869.4,1080.0 L870.5,1081.7 L871.6,1083.3 L872.8,1084.9 L874.1,1086.5 L875.4,1088.0 L876.7,1089.5 L878.1,1090.9 L879.6,1092.4 L881.1,1093.7 L882.6,1095.1 L884.2,1096.4 L885.9,1097.6 L887.6,1098.8 L889.2,1099.9 L891.0,1101.0 L892.7,1102.1 L894.4,1103.1 L896.2,1104.0 L898.0,1104.9 L899.7,1105.8 L901.5,1106.6 L903.3,1107.4 L905.1,1108.1 L906.9,1108.8 L908.8,1109.4 L910.6,1110.1 L912.4,1110.7 L914.3,1111.2 L916.1,1111.8 L918.0,1112.3 L919.9,1112.9 L921.8,1113.4 L923.6,1113.9 L925.5,1114.3 L927.4,1114.8 L929.3,1115.3 L931.3,1115.8 L933.2,1116.2 L935.1,1116.7 L937.0,1117.2 L939.0,1117.6 L940.9,1118.1 L942.8,1118.5 L944.8,1119.0 L946.7,1119.4 L948.7,1119.9 L950.6,1120.3 L952.6,1120.8 L954.5,1121.2 L956.5,1121.7 L958.5,1122.1 L960.4,1122.6 L962.4,1123.0 L964.4,1123.4 L966.3,1123.9 L968.3,1124.3 L970.3,1124.7 L972.2,1125.2 L974.2,1125.6 L976.2,1126.0 L978.1,1126.4 L980.1,1126.9 L982.1,1127.3 L984.0,1127.7 L986.0,1128.1 L988.0,1128.5 L989.9,1128.9 L991.9,1129.3 L993.9,1129.8 L995.8,1130.2 L997.8,1130.6 L999.8,1131.0 L1001.8,1131.4 L1003.7,1131.8 L1005.7,1132.2 L1007.7,1132.6 L1009.6,1133.0 L1011.6,1133.4 L1013.6,1133.8 L1015.5,1134.1 L1017.5,1134.5 L1019.5,1134.9 L1021.4,1135.3 L1023.4,1135.7 L1025.4,1136.1 L1027.4,1136.5 L1029.3,1136.8 L1031.3,1137.2 L1033.3,1137.6 L1035.2,1138.0 L1037.2,1138.4 L1039.2,1138.7 L1041.1,1139.1 L1043.1,1139.5 L1045.1,1139.9 L1047.0,1140.2 L1049.0,1140.6 L1051.0,1141.0 L1053.0,1141.3 L1054.9,1141.7 L1056.9,1142.1 L1058.9,1142.4 L1060.8,1142.8 L1062.8,1143.2 L1064.8,1143.5 L1066.7,1143.9 L1068.7,1144.3 L1070.7,1144.6 L1072.7,1145.0 L1074.6,1145.3 L1076.6,1145.7 L1078.6,1146.1 L1080.5,1146.4 L1082.5,1146.8 L1084.5,1147.1 L1086.4,1147.5 L1088.4,1147.8 L1090.4,1148.2 L1092.4,1148.6 L1094.3,1148.9 L1096.3,1149.3 L1098.3,1149.6 L1100.2,1150.0 L1102.2,1150.3 L1104.2,1150.7 L1106.1,1151.0 L1108.1,1151.4 L1110.1,1151.7 L1112.0,1152.1 L1114.0,1152.4 L1116.0,1152.8 L1118.0,1153.1 L1119.9,1153.5 L1121.9,1153.8 L1123.9,1154.2 L1125.8,1154.5 L1127.8,1154.8 L1129.8,1155.2 L1131.7,1155.5 L1133.7,1155.9 L1135.7,1156.2 L1137.6,1156.6 L1139.6,1156.9 L1141.6,1157.3 L1143.6,1157.6 L1145.5,1158.0 L1147.5,1158.3 L1149.5,1158.6 L1151.4,1159.0 L1153.4,1159.3 L1155.4,1159.7 L1157.3,1160.0 L1159.3,1160.4 L1161.3,1160.7 L1163.2,1161.1 L1165.2,1161.4 L1167.2,1161.7 L1169.1,1162.1 L1171.1,1162.4 L1173.1,1162.8 L1175.0,1163.1 L1177.0,1163.5 L1179.0,1163.8 L1180.9,1164.1 L1182.9,1164.5 L1184.9,1164.8 L1186.9,1165.2 L1188.8,1165.5 L1190.8,1165.9 L1192.8,1166.2 L1194.7,1166.5 L1196.7,1166.9 L1198.7,1167.2 L1200.6,1167.6 L1202.6,1167.9 L1204.6,1168.3 L1206.5,1168.6 L1208.5,1169.0 L1210.5,1169.3 L1212.4,1169.6 L1214.4,1170.0 L1216.4,1170.3 L1218.3,1170.7 L1220.3,1171.0 L1222.3,1171.4 L1224.2,1171.7 L1226.2,1172.1 L1228.1,1172.4 L1230.1,1172.8 L1232.1,1173.1 L1234.0,1173.5 L1236.0,1173.8 L1238.0,1174.2 L1239.9,1174.5 L1241.9,1174.9 L1243.9,1175.2 L1245.8,1175.6 L1247.8,1175.9 L1249.8,1176.3 L1251.7,1176.6 L1253.7,1177.0 L1255.7,1177.3 L1257.6,1177.7 L1259.6,1178.0 L1261.5,1178.4 L1263.5,1178.7 L1265.5,1179.1 L1267.4,1179.4 L1269.4,1179.8 L1271.4,1180.1 L1273.3,1180.5 L1275.3,1180.9 L1277.2,1181.2 L1279.2,1181.6 L1281.2,1181.9 L1283.1,1182.3 L1285.1,1182.7 L1287.1,1183.0 L1289.0,1183.4 L1291.0,1183.7 L1292.9,1184.1 L1294.9,1184.5 L1296.9,1184.8 L1298.8,1185.2 L1300.8,1185.6 L1302.7,1185.9 L1304.7,1186.3 L1306.7,1186.7 L1308.6,1187.0 L1310.6,1187.4 L1312.5,1187.8 L1314.5,1188.1 L1316.5,1188.5 L1318.4,1188.9 L1320.4,1189.3 L1322.3,1189.6 L1324.3,1190.0 L1326.3,1190.4 L1328.2,1190.8 L1330.2,1191.1 L1332.1,1191.5 L1334.1,1191.9 L1336.0,1192.3 L1338.0,1192.6 L1340.0,1193.0 L1341.9,1193.4 L1343.9,1193.8 L1345.8,1194.2 L1347.8,1194.6 L1349.7,1195.0 L1351.7,1195.3 L1353.7,1195.7 L1355.6,1196.1 L1357.6,1196.5 L1359.5,1196.9 L1361.5,1197.3 L1363.4,1197.7 L1365.4,1198.1 L1367.3,1198.5 L1369.3,1198.9 L1371.3,1199.3 L1373.2,1199.7 L1375.2,1200.1 L1377.1,1200.5 L1379.1,1200.9 L1381.0,1201.3 L1383.0,1201.7 L1384.9,1202.1 L1386.9,1202.5 L1388.8,1202.9 L1390.8,1203.3 L1392.7,1203.7 L1394.7,1204.1 L1396.6,1204.6 L1398.6,1205.0 L1400.5,1205.4 L1402.5,1205.8 L1404.4,1206.2 L1406.4,1206.6 L1408.3,1207.1 L1410.3,1207.5 L1412.2,1207.9 L1414.2,1208.3 L1416.1,1208.8 L1418.1,1209.2 L1420.0,1209.6 L1422.0,1210.1 L1423.9,1210.5 L1425.9,1210.9 L1427.8,1211.4 L1429.8,1211.8 L1431.7,1212.2 L1433.7,1212.7 L1435.6,1213.1 L1437.6,1213.6 L1439.5,1214.0 L1441.5,1214.5 L1443.4,1214.9 L1445.4,1215.3 L1447.3,1215.8 L1449.2,1216.2 L1451.2,1216.7 L1453.1,1217.2 L1455.1,1217.6 L1457.0,1218.1 L1459.0,1218.5 L1460.9,1219.0 L1462.8,1219.5 L1464.8,1219.9 L1466.7,1220.4 L1468.7,1220.9 L1470.6,1221.3 L1472.6,1221.8 L1474.5,1222.3 L1476.4,1222.7 L1478.4,1223.2 L1480.3,1223.7 L1482.3,1224.2 L1484.2,1224.7 L1486.1,1225.1 L1488.1,1225.6 L1490.0,1226.1 L1492.0,1226.6 L1493.9,1227.1 L1495.8,1227.6 L1497.8,1228.1 L1499.7,1228.6 L1501.7,1229.1 L1503.6,1229.6 L1505.5,1230.1 L1507.5,1230.6 L1509.4,1231.1 L1511.3,1231.6 L1513.3,1232.1 L1515.2,1232.6 L1517.1,1233.1 L1519.1,1233.7 L1521.0,1234.2 L1522.9,1234.7 L1524.9,1235.2 L1526.8,1235.7 L1528.8,1236.3 L1530.7,1236.8 L1532.6,1237.3 L1534.5,1237.9 L1536.5,1238.4 L1538.4,1238.9 L1540.3,1239.5 L1542.3,1240.0 L1544.2,1240.5 L1546.1,1241.1 L1548.1,1241.6 L1550.0,1242.2 L1551.9,1242.7 L1553.9,1243.3 L1555.8,1243.8 L1557.7,1244.4 L1559.6,1244.9 L1561.6,1245.5 L1563.5,1246.0 L1565.4,1246.6 L1567.4,1247.1 L1569.3,1247.7 L1571.2,1248.3 L1573.1,1248.8 L1575.1,1249.4 L1577.0,1250.0 L1578.9,1250.5 L1580.8,1251.1 L1582.8,1251.7 L1584.7,1252.2 L1586.6,1252.8 L1588.5,1253.4 L1590.5,1254.0 L1592.4,1254.5 L1594.3,1255.1 L1596.2,1255.7 L1598.2,1256.3 L1600.1,1256.8 L1602.0,1257.4 L1603.9,1258.0 L1605.9,1258.6 L1607.8,1259.2 L1609.7,1259.7 L1611.6,1260.3 L1613.6,1260.9 L1615.5,1261.5 L1617.4,1262.1 L1619.3,1262.7 L1621.2,1263.2 L1623.2,1263.8 L1625.1,1264.4 L1627.0,1265.0 L1628.9,1265.6 L1630.9,1266.2 L1632.8,1266.8 L1634.7,1267.4 L1636.6,1267.9 L1638.5,1268.5 L1640.5,1269.1 L1642.4,1269.7 L1644.3,1270.3 L1646.2,1270.9 L1648.1,1271.5 L1650.1,1272.1 L1652.0,1272.7 L1653.9,1273.2 L1655.8,1273.8 L1657.7,1274.4 L1659.7,1275.0 L1661.6,1275.6 L1663.5,1276.2 L1665.4,1276.8 L1667.3,1277.4 L1669.3,1278.0 L1671.2,1278.5 L1673.1,1279.1 L1675.0,1279.7 L1676.9,1280.3 L1678.8,1280.9 L1680.8,1281.5 L1682.7,1282.1 L1684.6,1282.7 L1686.5,1283.3 L1688.4,1283.8 L1690.3,1284.4 L1692.3,1285.0 L1694.2,1285.6 L1696.1,1286.2 L1698.0,1286.8 L1699.9,1287.4 L1701.9,1288.0 L1703.8,1288.5 L1705.7,1289.1 L1707.6,1289.7 L1709.5,1290.3 L1711.4,1290.9 L1713.4,1291.5 L1715.3,1292.0 L1717.2,1292.6 L1719.1,1293.2 L1721.0,1293.8 L1722.9,1294.4 L1724.9,1295.0 L1726.8,1295.5 L1728.7,1296.1 L1730.6,1296.7 L1732.5,1297.3 L1734.4,1297.8 L1736.4,1298.4 L1738.3,1299.0 L1740.2,1299.6 L1742.1,1300.2 L1744.0,1300.7 L1745.9,1301.3 L1747.9,1301.9 L1749.8,1302.5 L1751.7,1303.0 L1753.6,1303.6 L1755.5,1304.2 L1757.4,1304.7 L1759.4,1305.3 L1761.3,1305.9 L1763.2,1306.4 L1765.1,1307.0 L1767.0,1307.6 L1769.0,1308.1 L1770.9,1308.7 L1772.8,1309.3 L1774.7,1309.8 L1776.6,1310.4 L1778.5,1311.0 L1780.5,1311.5 L1782.4,1312.1 L1784.3,1312.6 L1786.2,1313.2 L1788.1,1313.8 L1790.0,1314.3 L1792.0,1314.9 L1793.9,1315.4 L1795.8,1316.0 L1797.7,1316.5 L1799.6,1317.1 L1801.6,1317.6 L1803.5,1318.2 L1805.4,1318.7 L1807.3,1319.3 L1809.2,1319.8 L1811.2,1320.4 L1813.1,1320.9 L1815.0,1321.5 L1816.9,1322.0 L1818.8,1322.5 L1820.8,1323.1 L1822.7,1323.6 L1824.6,1324.2 L1826.5,1324.7 L1828.4,1325.2 L1830.4,1325.8 L1832.3,1326.3 L1834.2,1326.8 L1836.1,1327.4 L1838.0,1327.9 L1840.0,1328.4 L1841.9,1328.9 L1843.8,1329.5 L1845.7,1330.0 L1847.6,1330.5 L1849.6,1331.0 L1851.5,1331.5 L1853.4,1332.1 L1855.3,1332.6 L1857.3,1333.1 L1859.2,1333.6 L1861.1,1334.1 L1863.0,1334.6 L1864.9,1335.1 L1866.9,1335.7 L1868.8,1336.2 L1870.7,1336.7 L1872.6,1337.2 L1874.6,1337.7 L1876.5,1338.2 L1878.4,1338.7 L1880.3,1339.2 L1882.3,1339.7 L1884.2,1340.2 L1886.1,1340.7 L1888.0,1341.2 L1890.0,1341.7 L1891.9,1342.2 L1893.8,1342.7 L1895.8,1343.1 L1897.7,1343.6 L1899.6,1344.1 L1901.5,1344.6 L1903.5,1345.1 L1905.4,1345.6 L1907.3,1346.1 L1909.2,1346.6 L1911.2,1347.0 L1913.1,1347.5 L1915.0,1348.0 L1917.0,1348.5 L1918.9,1348.9 L1920.8,1349.4 L1922.8,1349.9 L1924.7,1350.4 L1926.6,1350.8 L1928.5,1351.3 L1930.5,1351.8 L1932.4,1352.2 L1934.3,1352.7 L1936.3,1353.2 L1938.2,1353.6 L1940.1,1354.1 L1942.1,1354.6 L1944.0,1355.0 L1945.9,1355.5 L1947.9,1356.0 L1949.8,1356.4 L1951.7,1356.9 L1953.7,1357.3 L1955.6,1357.8 L1957.6,1358.2 L1959.5,1358.7 L1961.4,1359.1 L1963.4,1359.6 L1965.3,1360.0 L1967.2,1360.5 L1969.2,1360.9 L1971.1,1361.4 L1973.1,1361.8 L1975.0,1362.3 L1976.9,1362.7 L1978.9,1363.1 L1980.8,1363.6 L1982.8,1364.0 L1984.7,1364.5 L1986.6,1364.9 L1988.6,1365.3 L1990.5,1365.8 L1992.5,1366.2 L1994.4,1366.6 L1996.3,1367.1 L1998.3,1367.5 L2000.2,1367.9 L2002.2,1368.3 L2004.1,1368.8 L2006.1,1369.2 L2008.0,1369.6 L2010.0,1370.0 L2011.9,1370.5 L2013.9,1370.9 L2015.8,1371.3 L2017.7,1371.7 L2019.7,1372.1 L2021.6,1372.5 L2023.6,1373.0 L2025.5,1373.4 L2027.5,1373.8 L2029.4,1374.2 L2031.4,1374.6 L2033.3,1375.0 L2035.3,1375.4 L2037.2,1375.8 L2039.2,1376.2 L2041.2,1376.6 L2043.1,1377.1 L2045.1,1377.5 L2047.0,1377.9 L2049.0,1378.3 L2050.9,1378.7 L2052.9,1379.1 L2054.8,1379.5 L2056.8,1379.9 L2058.7,1380.2 L2060.7,1380.6 L2062.7,1381.0 L2064.6,1381.4 L2066.6,1381.8 L2068.5,1382.2 L2070.5,1382.6 L2072.5,1383.0 L2074.4,1383.4 L2076.4,1383.8 L2078.3,1384.2 L2080.3,1384.6 L2082.3,1385.0 L2084.2,1385.4 L2086.2,1385.8 L2088.2,1386.2 L2090.1,1386.6 L2092.1,1386.9 L2094.1,1387.3 L2096.0,1387.7 L2098.0,1388.1 L2100.0,1388.5 L2101.9,1388.9 L2103.9,1389.3 L2105.9,1389.7 L2107.8,1390.1 L2109.8,1390.5 L2111.8,1390.9 L2113.7,1391.3 L2115.7,1391.7 L2117.7,1392.1 L2119.7,1392.6 L2121.6,1393.0 L2123.6,1393.4 L2125.6,1393.8 L2127.6,1394.2 L2129.5,1394.6 L2131.5,1395.0 L2133.5,1395.5 L2135.5,1395.9 L2137.4,1396.3 L2139.4,1396.7 L2141.4,1397.2 L2143.4,1397.6 L2145.4,1398.0 L2147.3,1398.5 L2149.3,1398.9 L2151.3,1399.3 L2153.3,1399.8 L2155.3,1400.2 L2157.3,1400.7 L2159.2,1401.1 L2161.2,1401.6 L2163.2,1402.0 L2165.2,1402.5 L2167.2,1402.9 L2169.2,1403.4 L2171.2,1403.9 L2173.2,1404.4 L2175.1,1404.8 L2176.8,1405.0 L2177.8,1405.5 L2177.8,1546.5" stroke="#8000ff" stroke-width="6.3"/>
<g fill="#808080">
<circle cx="337.6" cy="65.7" r="8.1"/>
<circle cx="379.1" cy="67.4" r="8.1"/>
<circle cx="420.6" cy="69.7" r="8.1"/>
<circle cx="462.9" cy="73.5" r="8.1"/>
<circle cx="504.4" cy="79.4" r="8.1"/>
<circle cx="545.4" cy="90.0" r="8.1"/>
<circle cx="586.5" cy="109.5" r="8.1"/>
<circle cx="626.1" cy="139.6" r="8.1"/>
<circle cx="666.7" cy="186.4" r="8.1"/>
<circle cx="706.6" cy="264.3" r="8.1"/>
<circle cx="748.2" cy="420.5" r="8.1"/>
<circle cx="788.9" cy="752.0" r="8.1"/>
<circle cx="830.4" cy="982.0" r="8.1"/>
<circle cx="871.9" cy="1033.0" r="8.1"/>
<circle cx="914.1" cy="1050.7" r="8.1"/>
<circle cx="955.9" cy="1065.0" r="8.1"/>
<circle cx="996.6" cy="1077.1" r="8.1"/>
<circle cx="1037.7" cy="1087.6" r="8.1"/>
<circle cx="1078.5" cy="1096.6" r="8.1"/>
<circle cx="1119.0" cy="1104.5" r="8.1"/>
<circle cx="1160.6" cy="1112.0" r="8.1"/>
<circle cx="1202.5" cy="1119.0" r="8.1"/>
<circle cx="1244.8" cy="1125.5" r="8.1"/>
<circle cx="1287.0" cy="1131.5" r="8.1"/>
<circle cx="1330.4" cy="1137.3" r="8.1"/>
<circle cx="1375.6" cy="1142.9" r="8.1"/>
<circle cx="1420.2" cy="1148.1" r="8.1"/>
<circle cx="1464.2" cy="1153.0" r="8.1"/>
<circle cx="1507.9" cy="1157.7" r="8.1"/>
<circle cx="1550.4" cy="1162.1" r="8.1"/>
<circle cx="1587.6" cy="1165.9" r="8.1"/>
<circle cx="1626.5" cy="1169.8" r="8.1"/>
<circle cx="1666.0" cy="1173.8" r="8.1"/>
<circle cx="1708.5" cy="1178.2" r="8.1"/>
<circle cx="1750.2" cy="1182.7" r="8.1"/>
<circle cx="1793.3" cy="1187.4" r="8.1"/>
<circle cx="1832.8" cy="1192.0" r="8.1"/>
<circle cx="1873.6" cy="1196.9" r="8.1"/>
<circle cx="1914.6" cy="1202.0" r="8.1"/>
<circle cx="1958.9" cy="1207.7" r="8.1"/>
<circle cx="2003.5" cy="1213.3" r="8.1"/>
<circle cx="2047.5" cy="1218.7" r="8.1"/>
<circle cx="2090.6" cy="1223.7" r="8.1"/>
<circle cx="2132.3" cy="1228.2" r="8.1"/>
<circle cx="2171.0" cy="1232.1" r="8.1"/>
<circle cx="2176.8" cy="1249.0" r="8.1"/>
<circle cx="2176.8" cy="1279.0" r="8.1"/>
<circle cx="2176.8" cy="1511.0" r="8.1"/>
<circle cx="2176.8" cy="1538.0" r="8.1"/>
</g>
<path d="M300.8,64.2 L302.8,64.3 L304.8,64.4 L306.8,64.4 L308.8,64.5 L310.8,64.6 L312.8,64.7 L314.8,64.8 L316.7,64.9 L318.7,65.0 L320.7,65.0 L322.7,65.1 L324.7,65.2 L326.7,65.3 L328.7,65.4 L330.7,65.4 L332.7,65.5 L334.7,65.6 L336.7,65.7 L338.7,65.7 L340.7,65.8 L342.6,65.9 L344.6,66.0 L346.6,66.1 L348.6,66.1 L350.6,66.2 L352.6,66.3 L354.6,66.4 L356.6,66.4 L358.6,66.5 L360.6,66.6 L362.6,66.7 L364.6,66.8 L366.6,66.8 L368.6,66.9 L370.6,67.0 L372.6,67.1 L374.7,67.2 L376.7,67.3 L378.7,67.4 L380.7,67.5 L382.7,67.6 L384.7,67.6 L386.7,67.7 L388.7,67.8 L390.7,67.9 L392.7,68.0 L394.7,68.1 L396.7,68.3 L398.7,68.4 L400.7,68.5 L402.7,68.6 L404.7,68.7 L406.7,68.8 L408.7,68.9 L410.7,69.1 L412.7,69.2 L414.7,69.3 L416.7,69.5 L418.7,69.6 L420.7,69.7 L422.7,69.9 L424.7,70.0 L426.7,70.2 L428.7,70.3 L430.7,70.5 L432.7,70.6 L434.7,70.8 L436.7,70.9 L438.7,71.1 L440.7,71.3 L442.7,71.5 L444.7,71.6 L446.7,71.8 L448.7,72.0 L450.7,72.2 L452.7,72.4 L454.7,72.6 L456.7,72.8 L458.7,73.0 L460.7,73.2 L462.7,73.5 L464.6,73.7 L466.6,73.9 L468.6,74.1 L470.6,74.4 L472.6,74.6 L474.6,74.9 L476.6,75.1 L478.6,75.4 L480.5,75.7 L482.5,75.9 L484.5,76.2 L486.5,76.5 L488.5,76.8 L490.4,77.1 L492.4,77.4 L494.4,77.7 L496.4,78.0 L498.3,78.4 L500.3,78.7 L502.3,79.1 L504.2,79.4 L506.2,79.8 L508.1,80.2 L510.1,80.5 L512.0,80.9 L514.0,81.4 L515.9,81.8 L517.9,82.2 L519.8,82.7 L521.7,83.1 L523.7,83.6 L525.6,84.1 L527.5,84.6 L529.4,85.1 L531.4,85.6 L533.3,86.2 L535.2,86.7 L537.1,87.3 L539.0,87.9 L540.9,88.5 L542.7,89.1 L544.6,89.7 L546.5,90.4 L548.4,91.1 L550.2,91.7 L552.1,92.4 L553.9,93.2 L555.8,93.9 L557.6,94.7 L559.4,95.4 L561.3,96.2 L563.1,97.1 L564.9,97.9 L566.7,98.7 L568.5,99.6 L570.3,100.5 L572.1,101.4 L573.9,102.3 L575.6,103.3 L577.4,104.2 L579.1,105.2 L580.9,106.2 L582.6,107.2 L584.4,108.2 L586.1,109.3 L587.8,110.3 L589.5,111.4 L591.2,112.5 L592.9,113.6 L594.6,114.7 L596.2,115.8 L597.9,117.0 L599.5,118.1 L601.2,119.3 L602.8,120.5 L604.4,121.6 L606.1,122.8 L607.7,124.1 L609.3,125.3 L610.8,126.5 L612.4,127.8 L614.0,129.1 L615.5,130.3 L617.1,131.6 L618.6,132.9 L620.1,134.2 L621.6,135.5 L623.1,136.9 L624.6,138.2 L626.1,139.6 L627.6,140.9 L629.0,142.3 L630.5,143.7 L631.9,145.1 L633.4,146.5 L634.8,147.9 L636.2,149.4 L637.6,150.8 L639.0,152.2 L640.4,153.7 L641.7,155.2 L643.1,156.6 L644.4,158.1 L645.7,159.6 L647.1,161.1 L648.4,162.6 L649.7,164.2 L651.0,165.7 L652.2,167.2 L653.5,168.8 L654.8,170.4 L656.0,171.9 L657.2,173.5 L658.4,175.1 L659.7,176.7 L660.9,178.3 L662.0,179.9 L663.2,181.5 L664.4,183.1 L665.5,184.8 L666.7,186.4 L667.8,188.0 L668.9,189.7 L670.0,191.3 L671.1,193.0 L672.2,194.7 L673.2,196.4 L674.3,198.1 L675.3,199.8 L676.4,201.5 L677.4,203.2 L678.4,204.9 L679.4,206.6 L680.4,208.3 L681.4,210.1 L682.3,211.8 L683.3,213.5 L684.2,215.3 L685.2,217.1 L686.1,218.8 L687.0,220.6 L687.9,222.4 L688.8,224.1 L689.7,225.9 L690.6,227.7 L691.5,229.5 L692.4,231.3 L693.2,233.1 L694.1,234.9 L694.9,236.7 L695.7,238.5 L696.6,240.3 L697.4,242.2 L698.2,244.0 L699.0,245.8 L699.8,247.6 L700.6,249.5 L701.4,251.3 L702.1,253.2 L702.9,255.0 L703.6,256.9 L704.4,258.7 L705.1,260.6 L705.9,262.4 L706.6,264.3 L707.3,266.2 L708.1,268.0 L708.8,269.9 L709.5,271.8 L710.2,273.6 L710.9,275.5 L711.6,277.4 L712.3,279.3 L713.0,281.2 L713.6,283.0 L714.3,284.9 L715.0,286.8 L715.7,288.7 L716.3,290.6 L717.0,292.5 L717.6,294.4 L718.3,296.3 L718.9,298.2 L719.5,300.1 L720.1,302.0 L720.8,303.9 L721.4,305.8 L722.0,307.7 L722.6,309.6 L723.2,311.5 L723.8,313.4 L724.4,315.3 L725.0,317.2 L725.6,319.2 L726.1,321.1 L726.7,323.0 L727.3,324.9 L727.8,326.8 L728.4,328.8 L728.9,330.7 L729.4,332.6 L730.0,334.5 L730.5,336.5 L731.0,338.4 L731.6,340.3 L732.1,342.3 L732.6,344.2 L733.1,346.1 L733.6,348.1 L734.1,350.0 L734.5,351.9 L735.0,353.9 L735.5,355.8 L736.0,357.8 L736.4,359.7 L736.9,361.6 L737.3,363.6 L737.8,365.5 L738.2,367.5 L738.7,369.4 L739.1,371.4 L739.5,373.3 L739.9,375.3 L740.3,377.2 L740.7,379.2 L741.1,381.2 L741.5,383.1 L741.9,385.1 L742.3,387.0 L742.7,389.0 L743.1,391.0 L743.4,392.9 L743.8,394.9 L744.2,396.8 L744.5,398.8 L744.9,400.8 L745.2,402.7 L745.6,404.7 L745.9,406.7 L746.2,408.6 L746.6,410.6 L746.9,412.6 L747.2,414.5 L747.5,416.5 L747.8,418.5 L748.2,420.5 L748.5,422.4 L748.8,424.4 L749.1,426.4 L749.4,428.4 L749.7,430.3 L750.0,432.3 L750.2,434.3 L750.5,436.3 L750.8,438.2 L751.1,440.2 L751.4,442.2 L751.7,444.2 L751.9,446.2 L752.2,448.1 L752.5,450.1 L752.7,452.1 L753.0,454.1 L753.3,456.1 L753.5,458.0 L753.8,460.0 L754.0,462.0 L754.3,464.0 L754.6,466.0 L754.8,468.0 L755.1,469.9 L755.3,471.9 L755.6,473.9 L755.8,475.9 L756.1,477.9 L756.3,479.9 L756.6,481.9 L756.8,483.8 L757.1,485.8 L757.3,487.8 L757.5,489.8 L757.8,491.8 L758.0,493.8 L758.3,495.8 L758.5,497.7 L758.8,499.7 L759.0,501.7 L759.2,503.7 L759.5,505.7 L759.7,507.7 L760.0,509.7 L760.2,511.6 L760.5,513.6 L760.7,515.6 L760.9,517.6 L761.2,519.6 L761.4,521.6 L761.7,523.6 L761.9,525.6 L762.1,527.5 L762.4,529.5 L762.6,531.5 L762.9,533.5 L763.1,535.5 L763.3,537.5 L763.6,539.5 L763.8,541.4 L764.1,543.4 L764.3,545.4 L764.5,547.4 L764.8,549.4 L765.0,551.4 L765.3,553.4 L765.5,555.4 L765.7,557.3 L766.0,559.3 L766.2,561.3 L766.5,563.3 L766.7,565.3 L766.9,567.3 L767.2,569.3 L767.4,571.3 L767.6,573.2 L767.9,575.2 L768.1,577.2 L768.4,579.2 L768.6,581.2 L768.8,583.2 L769.1,585.2 L769.3,587.2 L769.5,589.1 L769.8,591.1 L770.0,593.1 L770.2,595.1 L770.5,597.1 L770.7,599.1 L771.0,601.1 L771.2,603.1 L771.4,605.0 L771.7,607.0 L771.9,609.0 L772.1,611.0 L772.4,613.0 L772.6,615.0 L772.8,617.0 L773.1,619.0 L773.3,620.9 L773.5,622.9 L773.8,624.9 L774.0,626.9 L774.3,628.9 L774.5,630.9 L774.7,632.9 L775.0,634.9 L775.2,636.8 L775.4,638.8 L775.7,640.8 L775.9,642.8 L776.1,644.8 L776.4,646.8 L776.6,648.8 L776.8,650.7 L777.1,652.7 L777.3,654.7 L777.5,656.7 L777.8,658.7 L778.0,660.7 L778.2,662.7 L778.5,664.6 L778.7,666.6 L779.0,668.6 L779.2,670.6 L779.4,672.6 L779.7,674.6 L779.9,676.6 L780.1,678.6 L780.4,680.5 L780.6,682.5 L780.8,684.5 L781.1,686.5 L781.3,688.5 L781.5,690.5 L781.8,692.5 L782.0,694.4 L782.2,696.4 L782.5,698.4 L782.7,700.4 L782.9,702.4 L783.2,704.4 L783.4,706.3 L783.7,708.3 L783.9,710.3 L784.1,712.3 L784.4,714.3 L784.6,716.3 L784.8,718.3 L785.1,720.2 L785.3,722.2 L785.5,724.2 L785.8,726.2 L786.0,728.2 L786.3,730.2 L786.5,732.1 L786.7,734.1 L787.0,736.1 L787.2,738.1 L787.4,740.1 L787.7,742.1 L787.9,744.0 L788.1,746.0 L788.4,748.0 L788.6,750.0 L788.9,752.0 L789.1,754.0 L789.3,755.9 L789.6,757.9 L789.8,759.9 L790.0,761.9 L790.3,763.9 L790.5,765.8 L790.8,767.8 L791.0,769.8 L791.2,771.8 L791.5,773.8 L791.7,775.8 L792.0,777.7 L792.2,779.7 L792.4,781.7 L792.7,783.7 L792.9,785.7 L793.2,787.6 L793.4,789.6 L793.6,791.6 L793.9,793.6 L794.1,795.6 L794.4,797.5 L794.6,799.5 L794.8,801.5 L795.1,803.5 L795.3,805.5 L795.6,807.4 L795.8,809.4 L796.1,811.4 L796.3,813.4 L796.6,815.3 L796.8,817.3 L797.1,819.3 L797.3,821.3 L797.6,823.3 L797.8,825.2 L798.1,827.2 L798.3,829.2 L798.6,831.2 L798.8,833.1 L799.1,835.1 L799.4,837.1 L799.6,839.1 L799.9,841.0 L800.2,843.0 L800.5,845.0 L800.7,847.0 L801.0,848.9 L801.3,850.9 L801.6,852.9 L801.9,854.9 L802.1,856.8 L802.4,858.8 L802.7,860.8 L803.0,862.8 L803.3,864.7 L803.6,866.7 L803.9,868.7 L804.2,870.7 L804.6,872.6 L804.9,874.6 L805.2,876.6 L805.5,878.6 L805.8,880.5 L806.2,882.5 L806.5,884.5 L806.9,886.4 L807.2,888.4 L807.5,890.4 L807.9,892.4 L808.2,894.3 L808.6,896.3 L809.0,898.3 L809.3,900.2 L809.7,902.2 L810.1,904.2 L810.5,906.2 L810.9,908.1 L811.3,910.1 L811.7,912.1 L812.1,914.0 L812.5,916.0 L812.9,918.0 L813.3,919.9 L813.7,921.9 L814.1,923.9 L814.6,925.8 L815.0,927.8 L815.5,929.8 L815.9,931.7 L816.4,933.7 L816.8,935.7 L817.3,937.6 L817.8,939.6 L818.3,941.6 L818.8,943.5 L819.3,945.5 L819.8,947.5 L820.3,949.4 L820.8,951.4 L821.3,953.4 L821.8,955.3 L822.4,957.3 L822.9,959.2 L823.5,961.1 L824.1,963.1 L824.7,965.0 L825.2,966.9 L825.8,968.8 L826.5,970.8 L827.1,972.7 L827.7,974.6 L828.4,976.4 L829.0,978.3 L829.7,980.2 L830.4,982.0 L831.1,983.9 L831.8,985.7 L832.6,987.5 L833.4,989.3 L834.1,991.1 L835.0,992.9 L835.8,994.7 L836.7,996.4 L837.5,998.1 L838.5,999.9 L839.4,1001.6 L840.4,1003.3 L841.4,1004.9 L842.5,1006.6 L843.6,1008.2 L844.7,1009.8 L845.9,1011.4 L847.1,1013.0 L848.4,1014.5 L849.7,1016.1 L851.1,1017.6 L852.5,1019.1 L853.9,1020.5 L855.4,1021.9 L856.9,1023.2 L858.5,1024.5 L860.1,1025.8 L861.7,1026.9 L863.3,1028.0 L865.0,1029.1 L866.7,1030.1 L868.4,1031.1 L870.1,1032.1 L871.9,1033.0 L873.6,1033.9 L875.4,1034.8 L877.2,1035.7 L878.9,1036.5 L880.7,1037.4 L882.5,1038.2 L884.4,1039.0 L886.2,1039.8 L888.0,1040.6 L889.8,1041.4 L891.7,1042.1 L893.5,1042.9 L895.4,1043.6 L897.2,1044.4 L899.1,1045.1 L900.9,1045.8 L902.8,1046.5 L904.7,1047.2 L906.6,1047.9 L908.4,1048.6 L910.3,1049.3 L912.2,1050.0 L914.1,1050.7 L916.0,1051.4 L917.9,1052.0 L919.7,1052.7 L921.6,1053.4 L923.5,1054.1 L925.4,1054.7 L927.3,1055.4 L929.2,1056.1 L931.1,1056.7 L933.0,1057.4 L934.9,1058.0 L936.8,1058.7 L938.7,1059.3 L940.6,1060.0 L942.5,1060.6 L944.4,1061.2 L946.3,1061.9 L948.3,1062.5 L950.2,1063.1 L952.1,1063.8 L954.0,1064.4 L955.9,1065.0 L957.8,1065.6 L959.7,1066.2 L961.7,1066.8 L963.6,1067.4 L965.5,1068.0 L967.4,1068.6 L969.3,1069.2 L971.3,1069.8 L973.2,1070.4 L975.1,1070.9 L977.0,1071.5 L979.0,1072.1 L980.9,1072.6 L982.8,1073.2 L984.7,1073.8 L986.7,1074.3 L988.6,1074.9 L990.5,1075.4 L992.4,1075.9 L994.4,1076.5 L996.3,1077.0 L998.2,1077.5 L1000.2,1078.1 L1002.1,1078.6 L1004.0,1079.1 L1006.0,1079.6 L1007.9,1080.1 L1009.8,1080.6 L1011.8,1081.1 L1013.7,1081.6 L1015.6,1082.1 L1017.6,1082.6 L1019.5,1083.1 L1021.4,1083.6 L1023.4,1084.1 L1025.3,1084.6 L1027.2,1085.0 L1029.2,1085.5 L1031.1,1086.0 L1033.1,1086.4 L1035.0,1086.9 L1036.9,1087.4 L1038.9,1087.8 L1040.8,1088.3 L1042.8,1088.7 L1044.7,1089.2 L1046.6,1089.6 L1048.6,1090.1 L1050.5,1090.5 L1052.5,1090.9 L1054.4,1091.4 L1056.4,1091.8 L1058.3,1092.2 L1060.3,1092.7 L1062.2,1093.1 L1064.2,1093.5 L1066.1,1093.9 L1068.1,1094.4 L1070.0,1094.8 L1071.9,1095.2 L1073.9,1095.6 L1075.8,1096.0 L1077.8,1096.4 L1079.7,1096.8 L1081.7,1097.2 L1083.7,1097.6 L1085.6,1098.0 L1087.6,1098.4 L1089.5,1098.8 L1091.5,1099.2 L1093.4,1099.6 L1095.4,1100.0 L1097.3,1100.3 L1099.3,1100.7 L1101.2,1101.1 L1103.2,1101.5 L1105.1,1101.9 L1107.1,1102.2 L1109.1,1102.6 L1111.0,1103.0 L1113.0,1103.4 L1114.9,1103.7 L1116.9,1104.1 L1118.9,1104.5 L1120.8,1104.8 L1122.8,1105.2 L1124.7,1105.6 L1126.7,1105.9 L1128.7,1106.3 L1130.6,1106.7 L1132.6,1107.0 L1134.5,1107.4 L1136.5,1107.7 L1138.5,1108.1 L1140.4,1108.4 L1142.4,1108.8 L1144.4,1109.1 L1146.3,1109.5 L1148.3,1109.8 L1150.2,1110.2 L1152.2,1110.5 L1154.2,1110.9 L1156.1,1111.2 L1158.1,1111.6 L1160.1,1111.9 L1162.0,1112.3 L1164.0,1112.6 L1166.0,1112.9 L1168.0,1113.3 L1169.9,1113.6 L1171.9,1113.9 L1173.9,1114.3 L1175.8,1114.6 L1177.8,1114.9 L1179.8,1115.3 L1181.7,1115.6 L1183.7,1115.9 L1185.7,1116.2 L1187.6,1116.6 L1189.6,1116.9 L1191.6,1117.2 L1193.6,1117.5 L1195.5,1117.9 L1197.5,1118.2 L1199.5,1118.5 L1201.5,1118.8 L1203.4,1119.1 L1205.4,1119.4 L1207.4,1119.8 L1209.4,1120.1 L1211.3,1120.4 L1213.3,1120.7 L1215.3,1121.0 L1217.3,1121.3 L1219.2,1121.6 L1221.2,1121.9 L1223.2,1122.2 L1225.2,1122.5 L1227.1,1122.8 L1229.1,1123.1 L1231.1,1123.4 L1233.1,1123.7 L1235.0,1124.0 L1237.0,1124.3 L1239.0,1124.6 L1241.0,1124.9 L1243.0,1125.2 L1244.9,1125.5 L1246.9,1125.8 L1248.9,1126.1 L1250.9,1126.4 L1252.9,1126.7 L1254.8,1127.0 L1256.8,1127.2 L1258.8,1127.5 L1260.8,1127.8 L1262.8,1128.1 L1264.7,1128.4 L1266.7,1128.7 L1268.7,1129.0 L1270.7,1129.2 L1272.7,1129.5 L1274.7,1129.8 L1276.6,1130.1 L1278.6,1130.3 L1280.6,1130.6 L1282.6,1130.9 L1284.6,1131.2 L1286.6,1131.4 L1288.5,1131.7 L1290.5,1132.0 L1292.5,1132.3 L1294.5,1132.5 L1296.5,1132.8 L1298.5,1133.1 L1300.4,1133.3 L1302.4,1133.6 L1304.4,1133.9 L1306.4,1134.1 L1308.4,1134.4 L1310.4,1134.7 L1312.4,1134.9 L1314.3,1135.2 L1316.3,1135.5 L1318.3,1135.7 L1320.3,1136.0 L1322.3,1136.2 L1324.3,1136.5 L1326.3,1136.7 L1328.2,1137.0 L1330.2,1137.3 L1332.2,1137.5 L1334.2,1137.8 L1336.2,1138.0 L1338.2,1138.3 L1340.2,1138.5 L1342.2,1138.8 L1344.1,1139.0 L1346.1,1139.3 L1348.1,1139.5 L1350.1,1139.8 L1352.1,1140.0 L1354.1,1140.3 L1356.1,1140.5 L1358.1,1140.8 L1360.0,1141.0 L1362.0,1141.2 L1364.0,1141.5 L1366.0,1141.7 L1368.0,1142.0 L1370.0,1142.2 L1372.0,1142.5 L1374.0,1142.7 L1376.0,1142.9 L1378.0,1143.2 L1379.9,1143.4 L1381.9,1143.7 L1383.9,1143.9 L1385.9,1144.1 L1387.9,1144.4 L1389.9,1144.6 L1391.9,1144.8 L1393.9,1145.1 L1395.9,1145.3 L1397.8,1145.5 L1399.8,1145.8 L1401.8,1146.0 L1403.8,1146.2 L1405.8,1146.5 L1407.8,1146.7 L1409.8,1146.9 L1411.8,1147.1 L1413.8,1147.4 L1415.8,1147.6 L1417.7,1147.8 L1419.7,1148.1 L1421.7,1148.3 L1423.7,1148.5 L1425.7,1148.7 L1427.7,1149.0 L1429.7,1149.2 L1431.7,1149.4 L1433.7,1149.6 L1435.7,1149.9 L1437.7,1150.1 L1439.6,1150.3 L1441.6,1150.5 L1443.6,1150.7 L1445.6,1151.0 L1447.6,1151.2 L1449.6,1151.4 L1451.6,1151.6 L1453.6,1151.8 L1455.6,1152.1 L1457.6,1152.3 L1459.5,1152.5 L1461.5,1152.7 L1463.5,1152.9 L1465.5,1153.1 L1467.5,1153.4 L1469.5,1153.6 L1471.5,1153.8 L1473.5,1154.0 L1475.5,1154.2 L1477.5,1154.4 L1479.4,1154.6 L1481.4,1154.9 L1483.4,1155.1 L1485.4,1155.3 L1487.4,1155.5 L1489.4,1155.7 L1491.4,1155.9 L1493.4,1156.1 L1495.4,1156.3 L1497.3,1156.5 L1499.3,1156.8 L1501.3,1157.0 L1503.3,1157.2 L1505.3,1157.4 L1507.3,1157.6 L1509.3,1157.8 L1511.3,1158.0 L1513.3,1158.2 L1515.2,1158.4 L1517.2,1158.6 L1519.2,1158.8 L1521.2,1159.0 L1523.2,1159.3 L1525.2,1159.5 L1527.2,1159.7 L1529.2,1159.9 L1531.2,1160.1 L1533.1,1160.3 L1535.1,1160.5 L1537.1,1160.7 L1539.1,1160.9 L1541.1,1161.1 L1543.1,1161.3 L1545.1,1161.5 L1547.1,1161.7 L1549.1,1161.9 L1551.0,1162.1 L1553.0,1162.3 L1555.0,1162.5 L1557.0,1162.7 L1559.0,1162.9 L1561.0,1163.1 L1563.0,1163.3 L1565.0,1163.6 L1567.0,1163.8 L1568.9,1164.0 L1570.9,1164.2 L1572.9,1164.4 L1574.9,1164.6 L1576.9,1164.8 L1578.9,1165.0 L1580.9,1165.2 L1582.9,1165.4 L1584.8,1165.6 L1586.8,1165.8 L1588.8,1166.0 L1590.8,1166.2 L1592.8,1166.4 L1594.8,1166.6 L1596.8,1166.8 L1598.8,1167.0 L1600.7,1167.2 L1602.7,1167.4 L1604.7,1167.6 L1606.7,1167.8 L1608.7,1168.0 L1610.7,1168.2 L1612.7,1168.4 L1614.7,1168.6 L1616.6,1168.8 L1618.6,1169.0 L1620.6,1169.2 L1622.6,1169.4 L1624.6,1169.6 L1626.6,1169.8 L1628.6,1170.0 L1630.6,1170.2 L1632.5,1170.4 L1634.5,1170.6 L1636.5,1170.8 L1638.5,1171.0 L1640.5,1171.2 L1642.5,1171.4 L1644.5,1171.6 L1646.5,1171.8 L1648.4,1172.0 L1650.4,1172.2 L1652.4,1172.4 L1654.4,1172.6 L1656.4,1172.8 L1658.4,1173.0 L1660.4,1173.2 L1662.3,1173.5 L1664.3,1173.7 L1666.3,1173.9 L1668.3,1174.1 L1670.3,1174.3 L1672.3,1174.5 L1674.3,1174.7 L1676.3,1174.9 L1678.2,1175.1 L1680.2,1175.3 L1682.2,1175.5 L1684.2,1175.7 L1686.2,1175.9 L1688.2,1176.1 L1690.2,1176.3 L1692.1,1176.5 L1694.1,1176.7 L1696.1,1176.9 L1698.1,1177.1 L1700.1,1177.3 L1702.1,1177.6 L1704.1,1177.8 L1706.1,1178.0 L1708.0,1178.2 L1710.0,1178.4 L1712.0,1178.6 L1714.0,1178.8 L1716.0,1179.0 L1718.0,1179.2 L1720.0,1179.4 L1721.9,1179.6 L1723.9,1179.8 L1725.9,1180.1 L1727.9,1180.3 L1729.9,1180.5 L1731.9,1180.7 L1733.9,1180.9 L1735.8,1181.1 L1737.8,1181.3 L1739.8,1181.5 L1741.8,1181.8 L1743.8,1182.0 L1745.8,1182.2 L1747.8,1182.4 L1749.7,1182.6 L1751.7,1182.8 L1753.7,1183.0 L1755.7,1183.3 L1757.7,1183.5 L1759.7,1183.7 L1761.7,1183.9 L1763.6,1184.1 L1765.6,1184.3 L1767.6,1184.6 L1769.6,1184.8 L1771.6,1185.0 L1773.6,1185.2 L1775.6,1185.4 L1777.5,1185.7 L1779.5,1185.9 L1781.5,1186.1 L1783.5,1186.3 L1785.5,1186.5 L1787.5,1186.8 L1789.5,1187.0 L1791.5,1187.2 L1793.4,1187.4 L1795.4,1187.7 L1797.4,1187.9 L1799.4,1188.1 L1801.4,1188.3 L1803.4,1188.6 L1805.4,1188.8 L1807.3,1189.0 L1809.3,1189.2 L1811.3,1189.5 L1813.3,1189.7 L1815.3,1189.9 L1817.3,1190.2 L1819.3,1190.4 L1821.2,1190.6 L1823.2,1190.9 L1825.2,1191.1 L1827.2,1191.3 L1829.2,1191.5 L1831.2,1191.8 L1833.2,1192.0 L1835.1,1192.3 L1837.1,1192.5 L1839.1,1192.7 L1841.1,1193.0 L1843.1,1193.2 L1845.1,1193.4 L1847.1,1193.7 L1849.0,1193.9 L1851.0,1194.2 L1853.0,1194.4 L1855.0,1194.6 L1857.0,1194.9 L1859.0,1195.1 L1860.9,1195.4 L1862.9,1195.6 L1864.9,1195.9 L1866.9,1196.1 L1868.9,1196.3 L1870.9,1196.6 L1872.9,1196.8 L1874.8,1197.1 L1876.8,1197.3 L1878.8,1197.6 L1880.8,1197.8 L1882.8,1198.1 L1884.8,1198.3 L1886.8,1198.6 L1888.7,1198.8 L1890.7,1199.0 L1892.7,1199.3 L1894.7,1199.5 L1896.7,1199.8 L1898.7,1200.0 L1900.7,1200.3 L1902.6,1200.5 L1904.6,1200.8 L1906.6,1201.0 L1908.6,1201.3 L1910.6,1201.5 L1912.6,1201.8 L1914.6,1202.0 L1916.5,1202.3 L1918.5,1202.5 L1920.5,1202.8 L1922.5,1203.0 L1924.5,1203.3 L1926.5,1203.5 L1928.5,1203.8 L1930.4,1204.1 L1932.4,1204.3 L1934.4,1204.6 L1936.4,1204.8 L1938.4,1205.1 L1940.4,1205.3 L1942.4,1205.6 L1944.3,1205.8 L1946.3,1206.1 L1948.3,1206.3 L1950.3,1206.6 L1952.3,1206.8 L1954.3,1207.1 L1956.3,1207.3 L1958.2,1207.6 L1960.2,1207.8 L1962.2,1208.1 L1964.2,1208.3 L1966.2,1208.6 L1968.2,1208.8 L1970.2,1209.1 L1972.1,1209.3 L1974.1,1209.6 L1976.1,1209.8 L1978.1,1210.1 L1980.1,1210.3 L1982.1,1210.6 L1984.1,1210.8 L1986.0,1211.1 L1988.0,1211.3 L1990.0,1211.6 L1992.0,1211.8 L1994.0,1212.1 L1996.0,1212.3 L1998.0,1212.6 L1999.9,1212.8 L2001.9,1213.1 L2003.9,1213.3 L2005.9,1213.6 L2007.9,1213.8 L2009.9,1214.1 L2011.9,1214.3 L2013.9,1214.6 L2015.8,1214.8 L2017.8,1215.1 L2019.8,1215.3 L2021.8,1215.6 L2023.8,1215.8 L2025.8,1216.0 L2027.8,1216.3 L2029.7,1216.5 L2031.7,1216.8 L2033.7,1217.0 L2035.7,1217.3 L2037.7,1217.5 L2039.7,1217.7 L2041.7,1218.0 L2043.6,1218.2 L2045.6,1218.5 L2047.6,1218.7 L2049.6,1218.9 L2051.6,1219.2 L2053.6,1219.4 L2055.6,1219.6 L2057.5,1219.9 L2059.5,1220.1 L2061.5,1220.4 L2063.5,1220.6 L2065.5,1220.8 L2067.5,1221.1 L2069.5,1221.3 L2071.5,1221.5 L2073.4,1221.7 L2075.4,1222.0 L2077.4,1222.2 L2079.4,1222.4 L2081.4,1222.7 L2083.4,1222.9 L2085.4,1223.1 L2087.3,1223.3 L2089.3,1223.6 L2091.3,1223.8 L2093.3,1224.0 L2095.3,1224.2 L2097.3,1224.5 L2099.3,1224.7 L2101.3,1224.9 L2103.2,1225.1 L2105.2,1225.3 L2107.2,1225.6 L2109.2,1225.8 L2111.2,1226.0 L2113.2,1226.2 L2115.2,1226.4 L2117.2,1226.6 L2119.1,1226.9 L2121.1,1227.1 L2123.1,1227.3 L2125.1,1227.5 L2127.1,1227.7 L2129.1,1227.9 L2131.1,1228.1 L2133.0,1228.3 L2135.0,1228.5 L2137.0,1228.7 L2139.0,1228.9 L2141.0,1229.1 L2143.0,1229.3 L2145.0,1229.5 L2147.0,1229.7 L2148.9,1229.9 L2150.9,1230.1 L2152.9,1230.3 L2154.9,1230.5 L2156.9,1230.7 L2158.9,1230.9 L2160.9,1231.1 L2162.9,1231.3 L2164.8,1231.5 L2166.8,1231.7 L2168.8,1231.9 L2170.8,1232.0 L2172.8,1232.2 L2174.8,1232.4 L2176.8,1232.5 L2176.4,1233.0 L2176.4,1546.5" stroke="#ff00ff" stroke-width="6.3" stroke-linejoin="miter"/>
</g>
<g fill="none" stroke-width="6.4">
<line x1="776.9" y1="183.8" x2="930.2" y2="183.8" stroke="#00ff00"/>
<circle cx="852.2" cy="183.8" r="8.8" fill="#00ff00" stroke="none"/>
<g stroke="#c9a0ff" stroke-width="2.0"><path d="M849.0,257.9V276.9M841.4,261.7L856.6,273.1M856.6,261.7L841.4,273.1"/><path d="M855.4,257.9V276.9M847.8,261.7L863.0,273.1M863.0,261.7L847.8,273.1"/></g>
<line x1="776.9" y1="267.4" x2="930.2" y2="267.4" stroke="#8000ff"/>
<circle cx="852.2" cy="350.7" r="8.8" fill="#808080" stroke="none"/>
<line x1="776.9" y1="350.7" x2="930.2" y2="350.7" stroke="#ff00ff"/>
</g>
<text transform="translate(945.6,205.8) scale(1.0,0.99)" font-size="66">Cellulose, thermal (10 K/min)</text>
<text transform="translate(945.6,289.3) scale(1.0,0.99)" font-size="66">Cellulose+HY(10 K/min),Normal mixing</text>
<text transform="translate(945.6,372.4) scale(1.0,0.99)" font-size="66">Cellulose+HY(10 K/min),Co-pressed</text>
<text transform="translate(270.7,86.0) scale(1.0,1.04)" font-size="71.5" text-anchor="end">1.0</text>
<text transform="translate(270.7,233.8) scale(1.0,1.04)" font-size="71.5" text-anchor="end">0.9</text>
<text transform="translate(270.7,381.6) scale(1.0,1.04)" font-size="71.5" text-anchor="end">0.8</text>
<text transform="translate(270.7,529.4) scale(1.0,1.04)" font-size="71.5" text-anchor="end">0.7</text>
<text transform="translate(270.7,677.2) scale(1.0,1.04)" font-size="71.5" text-anchor="end">0.6</text>
<text transform="translate(270.7,825.0) scale(1.0,1.04)" font-size="71.5" text-anchor="end">0.5</text>
<text transform="translate(270.7,972.8) scale(1.0,1.04)" font-size="71.5" text-anchor="end">0.4</text>
<text transform="translate(270.7,1120.6) scale(1.0,1.04)" font-size="71.5" text-anchor="end">0.3</text>
<text transform="translate(270.7,1268.4) scale(1.0,1.04)" font-size="71.5" text-anchor="end">0.2</text>
<text transform="translate(270.7,1416.2) scale(1.0,1.04)" font-size="71.5" text-anchor="end">0.1</text>
<text transform="translate(270.7,1564.0) scale(1.0,1.04)" font-size="71.5" text-anchor="end">0.0</text>
<text transform="translate(300.8,1646.3) scale(1.0,1.04)" font-size="71.5" text-anchor="middle">473</text>
<text transform="translate(613.5,1646.3) scale(1.0,1.04)" font-size="71.5" text-anchor="middle">573</text>
<text transform="translate(926.1,1646.3) scale(1.0,1.04)" font-size="71.5" text-anchor="middle">673</text>
<text transform="translate(1238.8,1646.3) scale(1.0,1.04)" font-size="71.5" text-anchor="middle">773</text>
<text transform="translate(1551.5,1646.3) scale(1.0,1.04)" font-size="71.5" text-anchor="middle">873</text>
<text transform="translate(1864.1,1646.3) scale(1.0,1.04)" font-size="71.5" text-anchor="middle">973</text>
<text transform="translate(2176.8,1646.3) scale(1.0,1.04)" font-size="71.5" text-anchor="middle">1073</text>
<text transform="translate(1517.0,1770.4) scale(1.0,1.04)" font-size="79.6">Temperature (K)</text>
<text transform="translate(92.0,1337.0) rotate(-90) scale(1.0,1.04)" font-size="79">Removed Weight Fraction</text>
</g>
</svg></body></html>
